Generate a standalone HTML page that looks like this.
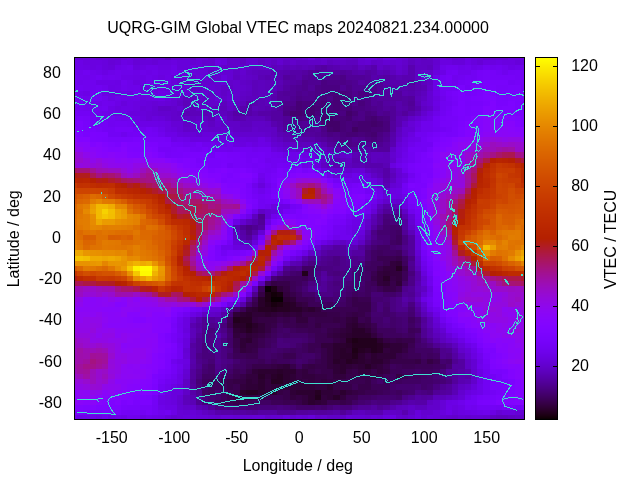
<!DOCTYPE html>
<html><head><meta charset="utf-8"><title>UQRG-GIM Global VTEC maps</title>
<style>html,body{margin:0;padding:0;background:#fff}svg{display:block;will-change:transform}text{font-family:"Liberation Sans",Arial,sans-serif;font-size:16px;fill:#000}</style>
</head><body>
<svg width="640" height="480" viewBox="0 0 640 480">
<rect width="640" height="480" fill="#fff"/>
<defs><clipPath id="pc"><rect x="75" y="58" width="449" height="361"/></clipPath></defs>
<g shape-rendering="crispEdges"><path fill="#6801dd" d="M74 57h3v3h-3zM127 57h6v3h-6zM440 57h6v3h-6zM508 57h13v3h-13zM102 60h6v5h-6zM158 60h13v5h-13zM471 60h6v5h-6zM521 60h4v5h-4zM102 65h6v5h-6zM133 65h7v5h-7zM190 65h6v5h-6zM183 70h7v5h-7zM433 70h7v5h-7zM171 75h6v5h-6zM221 75h6v5h-6zM152 85h6v6h-6zM165 85h6v6h-6zM115 91h6v5h-6zM140 96h6v5h-6zM165 96h6v5h-6zM121 101h6v5h-6zM140 101h6v5h-6zM127 111h13v5h-13zM427 111h6v5h-6zM140 116h6v5h-6zM152 116h6v5h-6zM421 116h6v5h-6zM171 127h6v5h-6zM177 132h6v5h-6zM240 137h6v5h-6zM402 137h6v5h-6zM396 147h6v5h-6zM396 152h6v6h-6zM321 168h6v5h-6zM402 173h6v5h-6zM371 178h6v5h-6zM258 183h7v5h-7zM377 199h6v5h-6zM352 230h13v5h-13zM415 235h6v5h-6zM421 271h6v5h-6zM183 328h7v5h-7zM183 338h7v5h-7zM183 343h7v5h-7zM183 364h7v5h-7zM171 390h12v5h-12zM465 390h6v5h-6zM171 395h6v5h-6zM171 400h6v5h-6zM440 410h6v5h-6zM502 410h13v5h-13zM383 415h7v5h-7zM415 415h6v5h-6z"/><path fill="#6601d6" d="M77 57h6v3h-6zM102 57h6v3h-6zM121 57h6v3h-6zM133 57h7v3h-7zM183 57h7v3h-7zM196 57h12v3h-12zM215 57h12v3h-12zM321 57h6v3h-6zM358 57h7v3h-7zM377 57h6v3h-6zM396 57h6v3h-6zM446 57h6v3h-6zM477 57h6v3h-6zM108 60h7v5h-7zM133 60h7v5h-7zM152 60h6v5h-6zM196 60h6v5h-6zM477 60h6v5h-6zM196 65h6v5h-6zM196 70h12v5h-12zM177 75h6v5h-6zM221 80h6v5h-6zM171 85h12v6h-12zM171 91h19v5h-19zM215 96h6v5h-6zM152 101h6v5h-6zM165 101h6v5h-6zM140 106h6v5h-6zM146 111h6v5h-6zM146 116h6v5h-6zM171 121h12v6h-12zM408 121h7v6h-7zM177 127h6v5h-6zM190 132h6v5h-6zM215 132h6v5h-6zM396 142h6v5h-6zM352 168h13v5h-13zM396 168h6v5h-6zM371 209h6v5h-6zM408 214h7v5h-7zM233 240h7v5h-7zM352 240h6v5h-6zM246 245h6v5h-6zM296 256h6v5h-6zM208 307h13v5h-13zM433 317h7v6h-7zM452 338h6v5h-6zM458 343h7v5h-7zM465 348h6v5h-6zM183 353h7v6h-7zM458 395h7v5h-7zM440 400h6v5h-6zM440 405h6v5h-6zM177 410h6v5h-6zM190 410h6v5h-6zM433 410h7v5h-7zM496 410h6v5h-6zM515 410h6v5h-6zM177 415h6v5h-6zM196 415h12v5h-12zM221 415h12v5h-12zM252 415h13v5h-13zM296 415h6v5h-6zM346 415h6v5h-6zM371 415h6v5h-6zM433 415h7v5h-7z"/><path fill="#6701da" d="M83 57h13v3h-13zM146 57h6v3h-6zM471 57h6v3h-6zM521 57h4v3h-4zM115 60h6v5h-6zM140 60h12v5h-12zM177 60h13v5h-13zM221 60h6v5h-6zM452 60h13v5h-13zM515 60h6v5h-6zM108 65h7v5h-7zM177 65h13v5h-13zM190 70h6v5h-6zM196 75h12v5h-12zM171 80h6v5h-6zM140 85h6v6h-6zM183 85h7v6h-7zM146 101h6v5h-6zM158 101h7v5h-7zM146 106h6v5h-6zM140 111h6v5h-6zM158 116h7v5h-7zM183 132h7v5h-7zM202 132h13v5h-13zM221 132h12v5h-12zM233 137h7v5h-7zM246 137h12v5h-12zM265 137h6v5h-6zM277 147h6v5h-6zM290 147h6v5h-6zM315 152h6v6h-6zM315 158h6v5h-6zM315 163h6v5h-6zM333 173h7v5h-7zM365 173h6v5h-6zM396 178h6v5h-6zM396 183h6v5h-6zM383 194h7v5h-7zM271 209h6v5h-6zM365 214h6v5h-6zM252 240h6v5h-6zM327 240h6v5h-6zM415 240h6v5h-6zM240 245h6v5h-6zM415 245h6v5h-6zM277 266h6v5h-6zM196 312h6v5h-6zM446 333h6v5h-6zM177 384h6v6h-6zM471 384h6v6h-6zM415 410h6v5h-6zM452 410h6v5h-6zM165 415h6v5h-6zM183 415h13v5h-13zM283 415h7v5h-7zM308 415h7v5h-7zM427 415h6v5h-6z"/><path fill="#6401d3" d="M96 57h6v3h-6zM108 57h7v3h-7zM152 57h13v3h-13zM171 57h12v3h-12zM252 57h6v3h-6zM302 57h6v3h-6zM333 57h13v3h-13zM402 57h6v3h-6zM458 57h7v3h-7zM496 57h12v3h-12zM190 60h6v5h-6zM365 60h6v5h-6zM383 60h7v5h-7zM396 60h6v5h-6zM202 65h6v5h-6zM215 65h6v5h-6zM433 65h7v5h-7zM215 70h18v5h-18zM183 75h7v5h-7zM227 75h6v5h-6zM421 75h6v5h-6zM177 80h6v5h-6zM215 80h6v5h-6zM202 85h13v6h-13zM196 91h6v5h-6zM427 91h6v5h-6zM171 96h6v5h-6zM227 96h6v5h-6zM427 96h6v5h-6zM171 101h6v5h-6zM427 101h6v5h-6zM152 106h6v5h-6zM177 106h6v5h-6zM152 111h6v5h-6zM165 116h6v5h-6zM215 116h6v5h-6zM415 116h6v5h-6zM196 121h6v6h-6zM402 127h13v5h-13zM196 132h6v5h-6zM402 132h6v5h-6zM271 142h6v5h-6zM283 147h7v5h-7zM327 168h6v5h-6zM340 168h6v5h-6zM396 173h6v5h-6zM377 183h6v5h-6zM390 183h6v5h-6zM390 199h6v5h-6zM265 209h6v5h-6zM265 214h6v5h-6zM408 219h7v6h-7zM258 230h7v5h-7zM358 235h7v5h-7zM315 245h6v5h-6zM415 250h6v6h-6zM421 281h6v5h-6zM421 292h6v5h-6zM440 328h6v5h-6zM183 348h7v5h-7zM471 359h6v5h-6zM471 364h6v5h-6zM183 369h7v5h-7zM177 395h6v5h-6zM177 405h6v5h-6zM183 410h7v5h-7zM521 410h4v5h-4zM171 415h6v5h-6zM208 415h7v5h-7zM233 415h19v5h-19zM302 415h6v5h-6zM352 415h13v5h-13zM377 415h6v5h-6zM408 415h7v5h-7zM421 415h6v5h-6zM440 415h6v5h-6zM458 415h7v5h-7zM471 415h12v5h-12z"/><path fill="#6301cf" d="M115 57h6v3h-6zM140 57h6v3h-6zM246 57h6v3h-6zM265 57h6v3h-6zM277 57h6v3h-6zM315 57h6v3h-6zM327 57h6v3h-6zM433 57h7v3h-7zM452 57h6v3h-6zM483 57h13v3h-13zM202 60h13v5h-13zM246 60h12v5h-12zM277 60h6v5h-6zM358 60h7v5h-7zM390 60h6v5h-6zM433 60h7v5h-7zM208 65h7v5h-7zM240 65h6v5h-6zM396 65h6v5h-6zM240 70h6v5h-6zM190 75h6v5h-6zM215 75h6v5h-6zM183 80h7v5h-7zM202 80h13v5h-13zM233 80h7v5h-7zM215 85h6v6h-6zM233 85h7v6h-7zM202 91h6v5h-6zM215 91h6v5h-6zM227 91h13v5h-13zM158 111h13v5h-13zM421 111h6v5h-6zM215 121h6v6h-6zM196 127h12v5h-12zM221 127h6v5h-6zM233 132h32v5h-32zM277 142h6v5h-6zM296 147h6v5h-6zM346 152h6v6h-6zM390 152h6v6h-6zM346 168h6v5h-6zM377 178h6v5h-6zM383 188h7v6h-7zM396 199h6v5h-6zM240 219h6v6h-6zM346 240h6v5h-6zM283 261h7v5h-7zM421 276h6v5h-6zM421 302h6v5h-6zM433 323h7v5h-7zM465 353h6v6h-6zM471 369h6v5h-6zM183 374h7v5h-7zM458 390h7v5h-7zM177 400h6v5h-6zM196 410h6v5h-6zM421 410h12v5h-12zM215 415h6v5h-6zM271 415h12v5h-12zM290 415h6v5h-6zM321 415h6v5h-6zM365 415h6v5h-6zM396 415h6v5h-6zM446 415h6v5h-6zM465 415h6v5h-6zM483 415h7v5h-7z"/><path fill="#5f01c3" d="M165 57h6v3h-6zM240 57h6v3h-6zM290 57h6v3h-6zM408 57h7v3h-7zM240 60h6v5h-6zM258 60h7v5h-7zM271 60h6v5h-6zM283 60h7v5h-7zM296 60h12v5h-12zM333 60h13v5h-13zM421 60h12v5h-12zM252 65h6v5h-6zM390 65h6v5h-6zM415 65h12v5h-12zM246 70h6v5h-6zM402 70h6v5h-6zM415 70h6v5h-6zM233 75h7v5h-7zM252 75h6v5h-6zM415 75h6v5h-6zM190 80h6v5h-6zM246 80h6v5h-6zM190 85h6v6h-6zM246 91h6v5h-6zM240 96h6v5h-6zM421 96h6v5h-6zM196 101h12v5h-12zM233 101h7v5h-7zM183 106h7v5h-7zM208 106h7v5h-7zM421 106h6v5h-6zM183 116h13v5h-13zM202 116h6v5h-6zM208 121h7v6h-7zM265 121h6v6h-6zM240 127h12v5h-12zM271 127h6v5h-6zM271 132h6v5h-6zM396 132h6v5h-6zM277 137h6v5h-6zM321 147h6v5h-6zM346 158h6v5h-6zM321 163h6v5h-6zM365 168h6v5h-6zM390 168h6v5h-6zM390 178h6v5h-6zM252 235h6v5h-6zM340 240h6v5h-6zM358 240h7v5h-7zM415 261h6v5h-6zM421 286h6v6h-6zM221 307h6v5h-6zM421 307h6v5h-6zM202 312h6v5h-6zM215 312h6v5h-6zM190 317h6v6h-6zM433 328h7v5h-7zM465 359h6v5h-6zM465 364h6v5h-6zM183 379h7v5h-7zM183 384h7v6h-7zM458 384h7v6h-7zM446 395h6v5h-6zM427 400h6v5h-6zM202 410h6v5h-6zM396 410h6v5h-6zM490 415h6v5h-6zM508 415h7v5h-7z"/><path fill="#6001c7" d="M190 57h6v3h-6zM227 57h6v3h-6zM352 57h6v3h-6zM415 57h6v3h-6zM427 57h6v3h-6zM308 60h13v5h-13zM371 60h6v5h-6zM415 60h6v5h-6zM246 65h6v5h-6zM258 65h7v5h-7zM377 65h6v5h-6zM402 65h6v5h-6zM208 70h7v5h-7zM233 70h7v5h-7zM246 75h6v5h-6zM196 80h6v5h-6zM240 80h6v5h-6zM427 80h6v5h-6zM196 85h6v6h-6zM221 85h12v6h-12zM246 85h6v6h-6zM208 91h7v5h-7zM221 91h6v5h-6zM240 91h6v5h-6zM202 96h6v5h-6zM177 101h6v5h-6zM158 106h13v5h-13zM196 106h6v5h-6zM227 106h6v5h-6zM177 111h6v5h-6zM196 116h6v5h-6zM408 116h7v5h-7zM183 121h7v6h-7zM221 121h19v6h-19zM252 121h13v6h-13zM402 121h6v6h-6zM233 127h7v5h-7zM258 127h13v5h-13zM283 142h13v5h-13zM308 147h7v5h-7zM390 147h6v5h-6zM327 152h6v6h-6zM371 173h6v5h-6zM258 209h7v5h-7zM402 209h6v5h-6zM365 225h6v5h-6zM233 235h7v5h-7zM240 240h6v5h-6zM308 250h7v6h-7zM415 256h6v5h-6zM265 276h6v5h-6zM208 312h7v5h-7zM440 333h6v5h-6zM471 374h6v5h-6zM183 390h7v5h-7zM408 405h7v5h-7zM383 410h13v5h-13zM408 410h7v5h-7zM327 415h19v5h-19zM515 415h10v5h-10z"/><path fill="#6201cb" d="M208 57h7v3h-7zM233 57h7v3h-7zM258 57h7v3h-7zM271 57h6v3h-6zM283 57h7v3h-7zM296 57h6v3h-6zM346 57h6v3h-6zM227 60h13v5h-13zM265 60h6v5h-6zM290 60h6v5h-6zM321 60h6v5h-6zM377 60h6v5h-6zM402 60h6v5h-6zM221 65h19v5h-19zM265 65h6v5h-6zM396 70h6v5h-6zM421 70h12v5h-12zM208 75h7v5h-7zM240 75h6v5h-6zM427 75h6v5h-6zM227 80h6v5h-6zM240 85h6v6h-6zM427 85h6v6h-6zM190 91h6v5h-6zM177 96h6v5h-6zM196 96h6v5h-6zM208 96h7v5h-7zM221 96h6v5h-6zM233 96h7v5h-7zM208 101h13v5h-13zM227 101h6v5h-6zM421 101h6v5h-6zM171 106h6v5h-6zM202 106h6v5h-6zM427 106h6v5h-6zM171 111h6v5h-6zM171 116h12v5h-12zM221 116h6v5h-6zM190 121h6v6h-6zM202 121h6v6h-6zM183 127h13v5h-13zM208 127h13v5h-13zM227 127h6v5h-6zM252 127h6v5h-6zM265 132h6v5h-6zM271 137h6v5h-6zM396 137h6v5h-6zM302 147h6v5h-6zM315 147h6v5h-6zM321 152h6v6h-6zM340 152h6v6h-6zM321 158h6v5h-6zM390 158h6v5h-6zM333 168h7v5h-7zM383 199h7v5h-7zM365 219h6v6h-6zM408 225h7v5h-7zM333 240h7v5h-7zM271 271h6v5h-6zM233 302h7v5h-7zM427 312h6v5h-6zM446 338h6v5h-6zM458 348h7v5h-7zM471 379h6v5h-6zM465 384h6v6h-6zM452 395h6v5h-6zM433 400h7v5h-7zM183 405h13v5h-13zM427 405h13v5h-13zM265 415h6v5h-6zM315 415h6v5h-6zM402 415h6v5h-6zM452 415h6v5h-6z"/><path fill="#6a01e0" d="M308 57h7v3h-7zM365 57h12v3h-12zM390 57h6v3h-6zM465 57h6v3h-6zM83 60h19v5h-19zM127 60h6v5h-6zM171 60h6v5h-6zM215 60h6v5h-6zM440 60h12v5h-12zM483 60h13v5h-13zM502 60h13v5h-13zM90 65h6v5h-6zM140 65h6v5h-6zM158 65h13v5h-13zM158 75h7v5h-7zM133 80h13v5h-13zM146 85h6v6h-6zM158 85h7v6h-7zM108 91h7v5h-7zM127 91h6v5h-6zM140 91h18v5h-18zM146 96h6v5h-6zM433 96h7v5h-7zM133 101h7v5h-7zM115 106h6v5h-6zM133 106h7v5h-7zM433 106h7v5h-7zM165 121h6v6h-6zM415 121h6v6h-6zM165 127h6v5h-6zM408 132h7v5h-7zM190 137h37v5h-37zM233 142h13v5h-13zM252 142h6v5h-6zM402 142h6v5h-6zM271 147h6v5h-6zM390 163h6v5h-6zM340 173h12v5h-12zM371 183h6v5h-6zM390 188h6v6h-6zM396 194h6v5h-6zM271 204h6v5h-6zM402 204h6v5h-6zM352 235h6v5h-6zM233 245h7v5h-7zM246 292h6v5h-6zM240 297h6v5h-6zM183 317h7v6h-7zM183 323h7v5h-7zM471 353h6v6h-6zM183 359h7v5h-7zM477 374h6v5h-6zM165 395h6v5h-6zM165 400h6v5h-6zM452 405h6v5h-6zM458 410h7v5h-7zM390 415h6v5h-6z"/><path fill="#6b01e4" d="M383 57h7v3h-7zM121 60h6v5h-6zM465 60h6v5h-6zM496 60h6v5h-6zM83 65h7v5h-7zM96 65h6v5h-6zM102 70h6v5h-6zM158 70h13v5h-13zM177 70h6v5h-6zM133 75h13v5h-13zM115 80h6v5h-6zM158 80h7v5h-7zM433 80h7v5h-7zM108 85h7v6h-7zM433 85h7v6h-7zM102 91h6v5h-6zM121 91h6v5h-6zM165 91h6v5h-6zM108 96h7v5h-7zM127 96h6v5h-6zM152 96h6v5h-6zM127 101h6v5h-6zM433 101h7v5h-7zM121 106h12v5h-12zM115 111h12v5h-12zM133 116h7v5h-7zM427 116h6v5h-6zM158 121h7v6h-7zM415 127h6v5h-6zM227 137h6v5h-6zM258 137h7v5h-7zM265 142h6v5h-6zM302 152h13v6h-13zM396 158h6v5h-6zM365 178h6v5h-6zM396 188h6v6h-6zM390 194h6v5h-6zM277 204h6v5h-6zM371 204h6v5h-6zM233 219h7v6h-7zM358 219h7v6h-7zM352 225h6v5h-6zM415 230h6v5h-6zM290 256h6v5h-6zM427 286h6v6h-6zM427 307h6v5h-6zM190 312h6v5h-6zM440 323h6v5h-6zM183 333h7v5h-7zM477 369h6v5h-6zM177 374h6v5h-6zM177 379h6v5h-6zM171 384h6v6h-6zM165 390h6v5h-6zM471 390h6v5h-6zM158 400h7v5h-7zM446 400h6v5h-6zM165 405h12v5h-12zM465 410h6v5h-6zM490 410h6v5h-6zM96 415h6v5h-6zM108 415h7v5h-7zM140 415h6v5h-6zM158 415h7v5h-7z"/><path fill="#5d01be" d="M421 57h6v3h-6zM327 60h6v5h-6zM346 60h12v5h-12zM408 60h7v5h-7zM277 65h6v5h-6zM358 65h7v5h-7zM383 65h7v5h-7zM427 65h6v5h-6zM252 70h6v5h-6zM390 70h6v5h-6zM258 80h7v5h-7zM421 80h6v5h-6zM258 85h7v6h-7zM258 91h13v5h-13zM421 91h6v5h-6zM183 96h13v5h-13zM246 96h12v5h-12zM190 101h6v5h-6zM221 101h6v5h-6zM215 111h12v5h-12zM240 121h12v6h-12zM396 127h6v5h-6zM302 142h19v5h-19zM333 152h7v6h-7zM371 152h12v6h-12zM340 158h6v5h-6zM371 158h6v5h-6zM346 163h6v5h-6zM377 204h6v5h-6zM252 214h6v5h-6zM233 230h7v5h-7zM415 297h6v5h-6zM440 338h6v5h-6zM452 343h6v5h-6zM402 405h6v5h-6zM415 405h12v5h-12zM358 410h7v5h-7zM496 415h12v5h-12z"/><path fill="#6c01e6" d="M74 60h9v5h-9zM74 65h9v5h-9zM115 65h6v5h-6zM146 65h12v5h-12zM171 65h6v5h-6zM471 65h6v5h-6zM508 65h7v5h-7zM133 70h7v5h-7zM146 70h6v5h-6zM440 70h6v5h-6zM121 75h12v5h-12zM152 75h6v5h-6zM165 75h6v5h-6zM96 80h19v5h-19zM152 80h6v5h-6zM165 80h6v5h-6zM115 85h6v6h-6zM83 91h7v5h-7zM158 91h7v5h-7zM433 91h7v5h-7zM121 96h6v5h-6zM133 96h7v5h-7zM158 96h7v5h-7zM115 101h6v5h-6zM108 106h7v5h-7zM108 111h7v5h-7zM133 121h25v6h-25zM165 132h12v5h-12zM408 137h7v5h-7zM215 142h12v5h-12zM246 142h6v5h-6zM258 142h7v5h-7zM402 147h6v5h-6zM283 152h7v6h-7zM302 163h6v5h-6zM358 173h7v5h-7zM402 178h6v5h-6zM377 188h6v6h-6zM402 199h6v5h-6zM283 204h7v5h-7zM277 209h6v5h-6zM265 219h6v6h-6zM352 219h6v6h-6zM358 225h7v5h-7zM415 225h6v5h-6zM321 240h6v5h-6zM302 250h6v6h-6zM421 266h6v5h-6zM421 297h6v5h-6zM227 302h6v5h-6zM202 307h6v5h-6zM433 312h7v5h-7zM458 338h7v5h-7zM465 343h6v5h-6zM471 348h6v5h-6zM177 359h6v5h-6zM477 379h6v5h-6zM158 395h7v5h-7zM452 400h6v5h-6zM446 405h6v5h-6zM458 405h7v5h-7zM171 410h6v5h-6zM446 410h6v5h-6zM471 410h6v5h-6zM77 415h6v5h-6zM121 415h6v5h-6zM152 415h6v5h-6z"/><path fill="#6d02e9" d="M121 65h6v5h-6zM440 65h6v5h-6zM458 65h7v5h-7zM477 65h6v5h-6zM515 65h10v5h-10zM96 70h6v5h-6zM108 70h7v5h-7zM121 70h12v5h-12zM140 70h6v5h-6zM152 70h6v5h-6zM171 70h6v5h-6zM146 75h6v5h-6zM433 75h7v5h-7zM127 80h6v5h-6zM146 80h6v5h-6zM127 85h13v6h-13zM77 91h6v5h-6zM115 96h6v5h-6zM90 101h12v5h-12zM102 111h6v5h-6zM433 111h7v5h-7zM121 116h6v5h-6zM158 127h7v5h-7zM171 137h6v5h-6zM183 137h7v5h-7zM415 137h6v5h-6zM290 152h6v6h-6zM402 152h6v6h-6zM290 158h6v5h-6zM302 158h6v5h-6zM308 163h7v5h-7zM327 173h6v5h-6zM352 173h6v5h-6zM258 178h7v5h-7zM352 178h13v5h-13zM377 194h6v5h-6zM402 194h6v5h-6zM252 209h6v5h-6zM246 214h6v5h-6zM346 225h6v5h-6zM346 230h6v5h-6zM427 292h6v5h-6zM452 333h6v5h-6zM477 359h6v5h-6zM177 369h6v5h-6zM477 384h6v6h-6zM477 390h6v5h-6zM465 395h6v5h-6zM158 405h7v5h-7zM477 410h6v5h-6zM83 415h13v5h-13zM115 415h6v5h-6zM146 415h6v5h-6z"/><path fill="#6f02ec" d="M127 65h6v5h-6zM465 65h6v5h-6zM502 65h6v5h-6zM77 70h6v5h-6zM90 70h6v5h-6zM115 70h6v5h-6zM458 70h13v5h-13zM83 75h7v5h-7zM102 75h6v5h-6zM115 75h6v5h-6zM77 80h6v5h-6zM102 85h6v6h-6zM121 85h6v6h-6zM133 91h7v5h-7zM83 96h7v5h-7zM102 96h6v5h-6zM440 96h6v5h-6zM83 101h7v5h-7zM108 101h7v5h-7zM90 106h6v5h-6zM96 111h6v5h-6zM115 116h6v5h-6zM127 116h6v5h-6zM421 121h12v6h-12zM421 127h12v5h-12zM177 137h6v5h-6zM227 142h6v5h-6zM408 142h7v5h-7zM227 147h6v5h-6zM277 152h6v6h-6zM296 152h6v6h-6zM308 158h7v5h-7zM402 158h6v5h-6zM396 163h6v5h-6zM346 178h6v5h-6zM252 183h6v5h-6zM258 188h7v6h-7zM371 199h6v5h-6zM271 214h6v5h-6zM352 214h6v5h-6zM333 235h7v5h-7zM221 245h12v5h-12zM421 261h6v5h-6zM427 276h6v5h-6zM427 302h6v5h-6zM177 323h6v5h-6zM177 338h6v5h-6zM177 364h6v5h-6zM477 364h6v5h-6zM171 379h6v5h-6zM165 384h6v6h-6zM458 400h7v5h-7zM158 410h7v5h-7zM483 410h7v5h-7zM74 415h3v5h-3zM102 415h6v5h-6zM133 415h7v5h-7z"/><path fill="#5c01ba" d="M271 65h6v5h-6zM290 65h6v5h-6zM302 65h6v5h-6zM258 70h13v5h-13zM252 80h6v5h-6zM265 80h12v5h-12zM252 85h6v6h-6zM265 85h12v6h-12zM252 91h6v5h-6zM265 96h6v5h-6zM415 96h6v5h-6zM183 101h7v5h-7zM240 101h6v5h-6zM265 101h6v5h-6zM190 106h6v5h-6zM215 106h12v5h-12zM233 106h7v5h-7zM252 106h6v5h-6zM190 111h12v5h-12zM208 111h7v5h-7zM415 111h6v5h-6zM208 116h7v5h-7zM227 116h6v5h-6zM246 116h19v5h-19zM296 142h6v5h-6zM383 152h7v6h-7zM327 158h6v5h-6zM377 158h13v5h-13zM327 163h6v5h-6zM371 168h6v5h-6zM377 173h6v5h-6zM390 173h6v5h-6zM396 204h6v5h-6zM246 219h6v6h-6zM408 230h7v5h-7zM346 245h6v5h-6zM315 250h6v6h-6zM415 266h6v5h-6zM258 281h7v5h-7zM252 286h6v6h-6zM190 328h6v5h-6zM190 333h6v5h-6zM433 333h7v5h-7zM458 353h7v6h-7zM183 395h7v5h-7zM433 395h13v5h-13zM183 400h7v5h-7zM396 405h6v5h-6zM208 410h7v5h-7zM352 410h6v5h-6z"/><path fill="#5a01b5" d="M283 65h7v5h-7zM296 65h6v5h-6zM308 65h7v5h-7zM340 65h12v5h-12zM365 65h6v5h-6zM377 70h6v5h-6zM258 75h7v5h-7zM271 75h6v5h-6zM396 75h6v5h-6zM277 80h6v5h-6zM421 85h6v6h-6zM415 91h6v5h-6zM258 96h7v5h-7zM258 101h7v5h-7zM415 101h6v5h-6zM258 106h7v5h-7zM183 111h7v5h-7zM202 111h6v5h-6zM227 111h6v5h-6zM402 116h6v5h-6zM277 132h6v5h-6zM283 137h7v5h-7zM327 147h6v5h-6zM352 152h6v6h-6zM365 152h6v6h-6zM340 163h6v5h-6zM352 163h13v5h-13zM383 163h7v5h-7zM377 168h6v5h-6zM383 183h7v5h-7zM390 204h6v5h-6zM371 214h6v5h-6zM365 230h6v5h-6zM246 240h6v5h-6zM321 245h6v5h-6zM352 245h6v5h-6zM290 261h6v5h-6zM415 286h6v6h-6zM421 312h6v5h-6zM427 317h6v6h-6zM427 323h6v5h-6zM465 379h6v5h-6zM452 390h6v5h-6zM190 400h6v5h-6zM196 405h6v5h-6zM365 410h6v5h-6z"/><path fill="#5600a7" d="M315 65h6v5h-6zM290 70h12v5h-12zM352 70h6v5h-6zM371 70h6v5h-6zM296 75h6v5h-6zM377 75h6v5h-6zM283 80h7v5h-7zM383 80h7v5h-7zM390 85h12v6h-12zM408 85h7v6h-7zM246 101h6v5h-6zM246 106h6v5h-6zM271 106h6v5h-6zM402 106h6v5h-6zM233 111h7v5h-7zM246 111h6v5h-6zM258 111h13v5h-13zM396 111h6v5h-6zM277 121h6v6h-6zM290 132h12v5h-12zM390 132h6v5h-6zM333 147h7v5h-7zM365 147h6v5h-6zM383 168h7v5h-7zM383 173h7v5h-7zM383 204h7v5h-7zM240 230h6v5h-6zM252 230h6v5h-6zM321 250h6v6h-6zM415 271h6v5h-6zM415 276h6v5h-6zM402 297h6v5h-6zM221 312h6v5h-6zM196 328h6v5h-6zM427 328h6v5h-6zM427 333h6v5h-6zM190 348h6v5h-6zM190 353h6v6h-6zM190 364h6v5h-6zM458 369h7v5h-7zM465 374h6v5h-6zM190 390h6v5h-6zM415 400h12v5h-12zM221 410h12v5h-12zM333 410h7v5h-7zM346 410h6v5h-6z"/><path fill="#5400a1" d="M321 65h6v5h-6zM302 70h6v5h-6zM327 70h6v5h-6zM365 70h6v5h-6zM290 75h6v5h-6zM383 75h7v5h-7zM290 80h6v5h-6zM358 80h7v5h-7zM283 85h7v6h-7zM383 85h7v6h-7zM390 91h6v5h-6zM402 96h6v5h-6zM383 101h13v5h-13zM402 101h6v5h-6zM240 111h6v5h-6zM271 111h12v5h-12zM271 116h12v5h-12zM315 137h6v5h-6zM358 147h7v5h-7zM371 147h6v5h-6zM390 209h6v5h-6zM402 219h6v6h-6zM258 225h7v5h-7zM371 225h6v5h-6zM402 225h6v5h-6zM408 235h7v5h-7zM333 245h13v5h-13zM352 250h13v6h-13zM315 256h6v5h-6zM277 271h6v5h-6zM321 276h6v5h-6zM215 317h6v6h-6zM196 323h6v5h-6zM190 343h6v5h-6zM440 343h6v5h-6zM452 353h6v6h-6zM458 359h7v5h-7zM452 364h13v5h-13zM446 390h6v5h-6zM415 395h6v5h-6zM427 395h6v5h-6zM402 400h6v5h-6zM371 405h6v5h-6zM233 410h13v5h-13zM258 410h19v5h-19zM308 410h7v5h-7zM327 410h6v5h-6z"/><path fill="#5700ac" d="M327 65h6v5h-6zM371 65h6v5h-6zM283 70h7v5h-7zM358 70h7v5h-7zM371 75h6v5h-6zM390 75h6v5h-6zM390 80h18v5h-18zM402 85h6v6h-6zM408 91h7v5h-7zM271 96h6v5h-6zM271 101h6v5h-6zM396 101h6v5h-6zM240 106h6v5h-6zM396 106h6v5h-6zM415 106h6v5h-6zM408 111h7v5h-7zM277 127h6v5h-6zM302 137h13v5h-13zM390 137h6v5h-6zM365 163h18v5h-18zM252 219h6v6h-6zM240 235h6v5h-6zM365 235h6v5h-6zM346 250h6v6h-6zM240 302h6v5h-6zM415 302h6v5h-6zM196 317h6v6h-6zM215 333h6v5h-6zM433 338h7v5h-7zM446 343h6v5h-6zM452 348h6v5h-6zM190 359h6v5h-6zM458 374h7v5h-7zM408 400h7v5h-7zM202 405h6v5h-6zM390 405h6v5h-6zM215 410h6v5h-6z"/><path fill="#5900b0" d="M333 65h7v5h-7zM352 65h6v5h-6zM408 65h7v5h-7zM271 70h12v5h-12zM383 70h7v5h-7zM408 70h7v5h-7zM265 75h6v5h-6zM277 75h6v5h-6zM402 75h13v5h-13zM415 80h6v5h-6zM277 85h6v6h-6zM415 85h6v6h-6zM271 91h6v5h-6zM402 91h6v5h-6zM252 101h6v5h-6zM265 106h6v5h-6zM252 111h6v5h-6zM233 116h13v5h-13zM265 116h6v5h-6zM396 116h6v5h-6zM271 121h6v6h-6zM396 121h6v6h-6zM283 132h7v5h-7zM290 137h12v5h-12zM321 142h6v5h-6zM390 142h6v5h-6zM358 152h7v6h-7zM333 158h7v5h-7zM352 158h19v5h-19zM333 163h7v5h-7zM383 178h7v5h-7zM377 209h6v5h-6zM402 214h6v5h-6zM371 219h6v6h-6zM233 225h7v5h-7zM327 245h6v5h-6zM302 256h6v5h-6zM296 261h6v5h-6zM415 281h6v5h-6zM415 292h6v5h-6zM190 323h6v5h-6zM190 338h6v5h-6zM465 369h6v5h-6zM458 379h7v5h-7zM452 384h6v6h-6zM190 395h6v5h-6zM371 410h12v5h-12zM402 410h6v5h-6z"/><path fill="#7002ee" d="M446 65h12v5h-12zM490 65h6v5h-6zM74 70h3v5h-3zM502 70h6v5h-6zM77 75h6v5h-6zM90 75h6v5h-6zM108 75h7v5h-7zM452 75h6v5h-6zM83 80h13v5h-13zM121 80h6v5h-6zM440 80h6v5h-6zM452 80h6v5h-6zM83 85h13v6h-13zM102 101h6v5h-6zM83 106h7v5h-7zM96 106h6v5h-6zM90 111h6v5h-6zM96 116h6v5h-6zM140 127h6v5h-6zM121 132h6v5h-6zM158 132h7v5h-7zM202 142h13v5h-13zM215 147h12v5h-12zM252 147h6v5h-6zM271 152h6v6h-6zM265 158h6v5h-6zM283 158h7v5h-7zM402 168h6v5h-6zM258 173h7v5h-7zM265 183h6v5h-6zM265 204h6v5h-6zM365 209h6v5h-6zM408 209h7v5h-7zM358 214h7v5h-7zM346 219h6v6h-6zM340 230h6v5h-6zM340 235h12v5h-12zM427 281h6v5h-6zM177 317h6v6h-6zM177 328h6v5h-6zM446 328h6v5h-6zM471 343h6v5h-6zM477 353h6v6h-6zM171 359h6v5h-6zM471 405h6v5h-6zM127 415h6v5h-6z"/><path fill="#7102f1" d="M483 65h7v5h-7zM496 65h6v5h-6zM83 70h7v5h-7zM458 75h7v5h-7zM74 80h3v5h-3zM74 85h9v6h-9zM96 85h6v6h-6zM440 85h6v6h-6zM74 91h3v5h-3zM90 91h12v5h-12zM440 91h6v5h-6zM440 101h6v5h-6zM74 106h9v5h-9zM102 106h6v5h-6zM440 106h6v5h-6zM102 116h13v5h-13zM108 121h7v6h-7zM127 121h6v6h-6zM152 127h6v5h-6zM433 127h7v5h-7zM415 132h12v5h-12zM183 142h13v5h-13zM233 147h7v5h-7zM258 147h13v5h-13zM271 158h12v5h-12zM296 158h6v5h-6zM271 163h6v5h-6zM408 173h7v5h-7zM371 188h6v6h-6zM415 219h6v6h-6zM340 225h6v5h-6zM315 240h6v5h-6zM427 297h6v5h-6zM433 307h7v5h-7zM183 312h7v5h-7zM440 317h6v6h-6zM177 333h6v5h-6zM177 343h6v5h-6zM483 369h7v5h-7zM171 374h6v5h-6zM165 379h6v5h-6zM471 395h6v5h-6zM465 405h6v5h-6zM165 410h6v5h-6z"/><path fill="#510097" d="M308 70h7v5h-7zM340 70h6v5h-6zM302 75h6v5h-6zM315 75h6v5h-6zM346 75h19v5h-19zM365 80h18v5h-18zM290 85h6v6h-6zM308 85h7v6h-7zM377 85h6v6h-6zM283 91h13v5h-13zM371 96h6v5h-6zM371 101h6v5h-6zM408 101h7v5h-7zM390 106h6v5h-6zM390 111h6v5h-6zM283 116h7v5h-7zM390 116h6v5h-6zM283 121h7v6h-7zM302 121h19v6h-19zM290 127h6v5h-6zM308 127h7v5h-7zM315 132h6v5h-6zM333 142h7v5h-7zM365 142h6v5h-6zM383 209h7v5h-7zM396 209h6v5h-6zM377 214h6v5h-6zM258 219h7v6h-7zM377 219h6v6h-6zM240 225h6v5h-6zM402 230h6v5h-6zM308 256h7v5h-7zM346 256h6v5h-6zM321 281h6v5h-6zM321 286h6v6h-6zM408 286h7v6h-7zM402 292h6v5h-6zM246 297h6v5h-6zM208 317h7v6h-7zM421 317h6v6h-6zM215 338h6v5h-6zM215 343h6v5h-6zM446 369h6v5h-6zM190 379h6v5h-6zM433 390h7v5h-7zM196 395h6v5h-6zM208 405h7v5h-7zM358 405h13v5h-13zM252 410h6v5h-6zM340 410h6v5h-6z"/><path fill="#4f0092" d="M315 70h6v5h-6zM308 75h7v5h-7zM321 75h6v5h-6zM308 80h13v5h-13zM352 80h6v5h-6zM296 85h6v6h-6zM340 85h6v6h-6zM352 85h13v6h-13zM302 91h6v5h-6zM290 96h6v5h-6zM377 101h6v5h-6zM377 106h6v5h-6zM377 111h6v5h-6zM290 121h12v6h-12zM302 127h6v5h-6zM327 137h6v5h-6zM352 137h6v5h-6zM383 137h7v5h-7zM358 142h7v5h-7zM377 142h6v5h-6zM258 214h7v5h-7zM252 225h6v5h-6zM321 256h6v5h-6zM358 256h7v5h-7zM302 261h6v5h-6zM315 261h6v5h-6zM346 261h6v5h-6zM408 261h7v5h-7zM283 266h7v5h-7zM327 276h6v5h-6zM408 292h7v5h-7zM415 312h6v5h-6zM202 317h6v6h-6zM202 323h6v5h-6zM215 323h6v5h-6zM215 328h6v5h-6zM421 328h6v5h-6zM221 333h6v5h-6zM421 333h6v5h-6zM196 338h6v5h-6zM427 338h6v5h-6zM196 343h6v5h-6zM433 343h7v5h-7zM196 348h6v5h-6zM215 348h6v5h-6zM446 348h6v5h-6zM215 359h6v5h-6zM452 359h6v5h-6zM196 364h6v5h-6zM440 384h6v6h-6zM196 390h6v5h-6zM408 395h7v5h-7zM196 400h6v5h-6zM396 400h6v5h-6zM377 405h6v5h-6zM277 410h19v5h-19z"/><path fill="#53009c" d="M321 70h6v5h-6zM333 70h7v5h-7zM346 70h6v5h-6zM283 75h7v5h-7zM365 75h6v5h-6zM296 80h6v5h-6zM408 80h7v5h-7zM277 91h6v5h-6zM377 91h13v5h-13zM396 91h6v5h-6zM277 96h13v5h-13zM377 96h25v5h-25zM408 96h7v5h-7zM277 101h6v5h-6zM277 106h6v5h-6zM383 106h7v5h-7zM408 106h7v5h-7zM402 111h6v5h-6zM390 121h6v6h-6zM283 127h7v5h-7zM315 127h6v5h-6zM390 127h6v5h-6zM302 132h13v5h-13zM321 137h6v5h-6zM327 142h6v5h-6zM383 142h7v5h-7zM340 147h18v5h-18zM377 147h13v5h-13zM246 235h6v5h-6zM365 240h6v5h-6zM408 240h7v5h-7zM358 245h7v5h-7zM408 245h7v5h-7zM327 250h19v6h-19zM408 250h7v6h-7zM321 271h6v5h-6zM315 286h6v6h-6zM408 297h7v5h-7zM402 302h6v5h-6zM227 307h6v5h-6zM415 307h6v5h-6zM421 323h6v5h-6zM196 333h6v5h-6zM190 369h6v5h-6zM452 369h6v5h-6zM190 374h6v5h-6zM452 374h6v5h-6zM452 379h6v5h-6zM190 384h6v6h-6zM446 384h6v6h-6zM440 390h6v5h-6zM421 395h6v5h-6zM383 405h7v5h-7zM246 410h6v5h-6zM296 410h12v5h-12zM315 410h12v5h-12z"/><path fill="#7202f3" d="M446 70h6v5h-6zM471 70h6v5h-6zM521 70h4v5h-4zM74 75h3v5h-3zM96 75h6v5h-6zM471 75h6v5h-6zM521 75h4v5h-4zM446 80h6v5h-6zM446 85h6v6h-6zM77 96h6v5h-6zM90 96h12v5h-12zM446 101h6v5h-6zM440 111h6v5h-6zM90 116h6v5h-6zM433 116h7v5h-7zM115 121h12v6h-12zM433 121h7v6h-7zM133 127h7v5h-7zM415 142h6v5h-6zM208 147h7v5h-7zM240 147h12v5h-12zM265 152h6v6h-6zM408 152h7v6h-7zM408 158h7v5h-7zM290 163h6v5h-6zM402 163h6v5h-6zM265 168h6v5h-6zM340 178h6v5h-6zM365 183h6v5h-6zM402 188h6v6h-6zM258 199h7v5h-7zM258 204h7v5h-7zM365 204h6v5h-6zM333 225h7v5h-7zM333 230h7v5h-7zM308 245h7v5h-7zM421 256h6v5h-6zM196 307h6v5h-6zM446 323h6v5h-6zM177 348h6v5h-6zM177 353h6v6h-6zM483 374h7v5h-7zM483 379h7v5h-7zM158 384h7v6h-7zM483 384h7v6h-7zM158 390h7v5h-7zM483 390h7v5h-7zM496 405h6v5h-6zM140 410h6v5h-6zM152 410h6v5h-6z"/><path fill="#7302f5" d="M452 70h6v5h-6zM496 70h6v5h-6zM508 70h7v5h-7zM440 75h6v5h-6zM465 75h6v5h-6zM471 80h6v5h-6zM452 85h6v6h-6zM521 85h4v6h-4zM74 101h3v5h-3zM77 111h13v5h-13zM90 121h6v6h-6zM108 127h7v5h-7zM146 127h6v5h-6zM440 127h6v5h-6zM108 132h13v5h-13zM127 132h6v5h-6zM140 132h6v5h-6zM152 132h6v5h-6zM421 137h6v5h-6zM177 142h6v5h-6zM421 142h12v5h-12zM196 147h6v5h-6zM408 147h7v5h-7zM421 147h6v5h-6zM246 152h12v6h-12zM265 163h6v5h-6zM283 163h7v5h-7zM315 168h6v5h-6zM333 178h7v5h-7zM402 183h6v5h-6zM252 188h6v6h-6zM265 188h6v6h-6zM258 194h7v5h-7zM271 199h6v5h-6zM290 204h6v5h-6zM346 214h6v5h-6zM415 214h6v5h-6zM258 235h7v5h-7zM221 250h6v6h-6zM296 250h6v6h-6zM427 271h6v5h-6zM452 328h6v5h-6zM458 333h7v5h-7zM483 364h7v5h-7zM490 374h6v5h-6zM465 400h12v5h-12zM152 405h6v5h-6zM477 405h19v5h-19zM127 410h6v5h-6z"/><path fill="#7602f8" d="M477 70h6v5h-6zM490 70h6v5h-6zM446 75h6v5h-6zM477 75h6v5h-6zM490 75h25v5h-25zM465 80h6v5h-6zM477 80h6v5h-6zM515 80h6v5h-6zM446 91h6v5h-6zM77 101h6v5h-6zM452 101h6v5h-6zM521 106h4v5h-4zM446 111h6v5h-6zM74 116h3v5h-3zM440 116h6v5h-6zM115 127h18v5h-18zM446 127h6v5h-6zM165 137h6v5h-6zM158 147h13v5h-13zM202 147h6v5h-6zM240 152h6v6h-6zM246 163h6v5h-6zM258 163h7v5h-7zM408 178h7v5h-7zM271 183h6v5h-6zM252 194h6v5h-6zM265 194h6v5h-6zM277 199h6v5h-6zM296 204h6v5h-6zM415 209h6v5h-6zM240 214h6v5h-6zM340 219h6v6h-6zM252 245h6v5h-6zM421 250h6v6h-6zM271 266h6v5h-6zM427 266h6v5h-6zM458 328h7v5h-7zM171 333h6v5h-6zM171 338h6v5h-6zM483 359h7v5h-7zM165 374h6v5h-6zM158 379h7v5h-7zM477 395h6v5h-6zM502 405h6v5h-6zM521 405h4v5h-4zM146 410h6v5h-6z"/><path fill="#7703f9" d="M483 70h7v5h-7zM483 75h7v5h-7zM471 85h6v6h-6zM496 85h12v6h-12zM465 91h6v5h-6zM496 91h6v5h-6zM452 96h6v5h-6zM521 101h4v5h-4zM83 116h7v5h-7zM446 116h12v5h-12zM440 121h12v6h-12zM96 127h6v5h-6zM433 132h7v5h-7zM146 137h19v5h-19zM427 137h6v5h-6zM171 147h6v5h-6zM183 147h7v5h-7zM165 152h6v6h-6zM227 152h13v6h-13zM415 152h6v6h-6zM233 158h13v5h-13zM252 158h6v5h-6zM415 158h6v5h-6zM233 163h13v5h-13zM252 168h6v5h-6zM283 168h7v5h-7zM408 168h7v5h-7zM271 173h6v5h-6zM321 173h6v5h-6zM252 178h6v5h-6zM352 183h6v5h-6zM371 194h6v5h-6zM290 209h6v5h-6zM352 209h13v5h-13zM333 219h7v6h-7zM421 225h6v5h-6zM327 230h6v5h-6zM233 250h7v6h-7zM177 312h6v5h-6zM171 323h6v5h-6zM496 374h6v5h-6zM496 379h6v5h-6zM496 390h6v5h-6zM483 395h7v5h-7zM140 405h12v5h-12zM508 405h7v5h-7zM74 410h3v5h-3zM83 410h19v5h-19z"/><path fill="#7402f6" d="M515 70h6v5h-6zM515 75h6v5h-6zM458 80h7v5h-7zM508 80h7v5h-7zM521 80h4v5h-4zM465 85h6v6h-6zM74 96h3v5h-3zM446 96h6v5h-6zM446 106h6v5h-6zM74 111h3v5h-3zM96 121h12v6h-12zM102 127h6v5h-6zM133 132h7v5h-7zM146 132h6v5h-6zM427 132h6v5h-6zM171 142h6v5h-6zM196 142h6v5h-6zM190 147h6v5h-6zM415 147h6v5h-6zM208 152h7v6h-7zM258 152h7v6h-7zM246 158h6v5h-6zM258 158h7v5h-7zM227 163h6v5h-6zM252 163h6v5h-6zM277 163h6v5h-6zM296 163h6v5h-6zM258 168h7v5h-7zM271 168h6v5h-6zM265 173h6v5h-6zM265 178h6v5h-6zM346 183h6v5h-6zM365 188h6v6h-6zM265 199h6v5h-6zM365 199h6v5h-6zM408 204h7v5h-7zM283 209h7v5h-7zM277 214h6v5h-6zM327 235h6v5h-6zM227 240h6v5h-6zM283 256h7v5h-7zM190 307h6v5h-6zM465 338h6v5h-6zM477 348h6v5h-6zM171 364h6v5h-6zM171 369h6v5h-6zM490 390h6v5h-6zM152 395h6v5h-6zM152 400h6v5h-6zM515 405h6v5h-6zM121 410h6v5h-6zM133 410h7v5h-7z"/><path fill="#4e008c" d="M327 75h13v5h-13zM302 80h6v5h-6zM346 80h6v5h-6zM302 85h6v6h-6zM365 85h12v6h-12zM296 91h6v5h-6zM308 91h7v5h-7zM352 91h6v5h-6zM371 91h6v5h-6zM302 96h13v5h-13zM352 96h6v5h-6zM283 101h13v5h-13zM352 101h6v5h-6zM371 106h6v5h-6zM383 111h7v5h-7zM290 116h6v5h-6zM296 127h6v5h-6zM321 132h6v5h-6zM383 132h7v5h-7zM333 137h7v5h-7zM358 137h7v5h-7zM340 142h6v5h-6zM352 142h6v5h-6zM371 142h6v5h-6zM246 230h6v5h-6zM371 235h6v5h-6zM402 245h6v5h-6zM327 256h6v5h-6zM340 256h6v5h-6zM352 256h6v5h-6zM321 261h6v5h-6zM340 261h6v5h-6zM352 261h6v5h-6zM296 266h6v5h-6zM340 266h12v5h-12zM408 266h7v5h-7zM315 276h6v5h-6zM315 281h6v5h-6zM308 286h7v6h-7zM402 286h6v6h-6zM252 292h6v5h-6zM396 297h6v5h-6zM396 302h6v5h-6zM396 307h12v5h-12zM221 317h6v6h-6zM208 323h7v5h-7zM202 328h6v5h-6zM440 348h6v5h-6zM215 353h6v6h-6zM440 353h6v6h-6zM196 359h6v5h-6zM215 364h6v5h-6zM446 374h6v5h-6zM390 400h6v5h-6zM352 405h6v5h-6z"/><path fill="#4c0086" d="M340 75h6v5h-6zM327 80h19v5h-19zM315 85h6v6h-6zM346 85h6v6h-6zM315 91h6v5h-6zM296 96h6v5h-6zM327 96h6v5h-6zM358 96h13v5h-13zM365 101h6v5h-6zM283 106h7v5h-7zM365 106h6v5h-6zM358 111h7v5h-7zM315 116h6v5h-6zM358 116h7v5h-7zM321 127h6v5h-6zM333 132h7v5h-7zM346 137h6v5h-6zM377 137h6v5h-6zM346 142h6v5h-6zM246 225h6v5h-6zM371 230h6v5h-6zM408 256h7v5h-7zM327 261h6v5h-6zM290 266h6v5h-6zM333 266h7v5h-7zM315 271h6v5h-6zM346 271h6v5h-6zM333 276h19v5h-19zM408 276h7v5h-7zM327 281h6v5h-6zM408 281h7v5h-7zM327 286h6v6h-6zM321 292h12v5h-12zM221 328h6v5h-6zM202 333h6v5h-6zM202 338h13v5h-13zM208 348h7v5h-7zM196 353h6v6h-6zM446 353h6v6h-6zM221 359h6v5h-6zM196 369h6v5h-6zM215 369h6v5h-6zM415 390h6v5h-6zM402 395h6v5h-6z"/><path fill="#4a0081" d="M321 80h6v5h-6zM321 85h19v6h-19zM321 91h6v5h-6zM346 91h6v5h-6zM358 91h13v5h-13zM315 96h6v5h-6zM290 106h6v5h-6zM352 106h13v5h-13zM283 111h7v5h-7zM340 111h6v5h-6zM371 111h6v5h-6zM302 116h6v5h-6zM352 116h6v5h-6zM383 116h7v5h-7zM327 132h6v5h-6zM377 132h6v5h-6zM340 137h6v5h-6zM365 137h6v5h-6zM390 214h12v5h-12zM377 225h6v5h-6zM402 235h6v5h-6zM371 240h6v5h-6zM402 240h6v5h-6zM365 245h6v5h-6zM402 250h6v6h-6zM333 256h7v5h-7zM308 261h7v5h-7zM333 261h7v5h-7zM358 261h7v5h-7zM321 266h12v5h-12zM352 266h6v5h-6zM327 271h6v5h-6zM340 271h6v5h-6zM308 281h7v5h-7zM340 281h6v5h-6zM333 286h7v6h-7zM390 297h6v5h-6zM390 302h6v5h-6zM408 302h7v5h-7zM390 307h6v5h-6zM208 333h7v5h-7zM221 338h6v5h-6zM208 343h7v5h-7zM221 343h6v5h-6zM221 348h6v5h-6zM221 353h6v6h-6zM202 359h6v5h-6zM227 359h6v5h-6zM221 364h6v5h-6zM196 374h6v5h-6zM446 379h6v5h-6zM433 384h7v6h-7zM421 390h6v5h-6zM371 400h6v5h-6zM215 405h12v5h-12zM277 405h6v5h-6zM333 405h7v5h-7z"/><path fill="#7903fc" d="M483 80h7v5h-7zM458 85h7v6h-7zM483 85h13v6h-13zM515 91h6v5h-6zM465 96h6v5h-6zM502 96h6v5h-6zM521 96h4v5h-4zM471 101h12v5h-12zM452 106h6v5h-6zM465 106h6v5h-6zM452 111h6v5h-6zM465 111h6v5h-6zM521 111h4v5h-4zM83 127h13v5h-13zM452 127h6v5h-6zM452 132h6v5h-6zM427 147h6v5h-6zM221 152h6v6h-6zM221 158h6v5h-6zM283 173h7v5h-7zM415 178h6v5h-6zM358 183h7v5h-7zM408 188h7v6h-7zM408 194h7v5h-7zM246 209h6v5h-6zM333 214h13v5h-13zM327 225h6v5h-6zM215 245h6v5h-6zM290 250h6v6h-6zM252 281h6v5h-6zM171 317h6v6h-6zM446 317h6v6h-6zM171 328h6v5h-6zM165 369h6v5h-6zM496 369h6v5h-6zM158 374h7v5h-7zM502 384h6v6h-6zM477 400h6v5h-6zM121 405h6v5h-6zM108 410h7v5h-7z"/><path fill="#7803fb" d="M490 80h18v5h-18zM477 85h6v6h-6zM508 85h13v6h-13zM452 91h6v5h-6zM471 91h6v5h-6zM502 91h13v5h-13zM521 91h4v5h-4zM465 101h6v5h-6zM77 116h6v5h-6zM74 121h3v6h-3zM83 121h7v6h-7zM452 121h6v6h-6zM446 132h6v5h-6zM108 137h25v5h-25zM158 142h13v5h-13zM177 147h6v5h-6zM171 152h12v6h-12zM196 158h25v5h-25zM227 158h6v5h-6zM208 163h13v5h-13zM408 163h7v5h-7zM302 168h6v5h-6zM415 173h6v5h-6zM271 178h6v5h-6zM246 183h6v5h-6zM271 188h6v6h-6zM346 188h6v6h-6zM408 199h7v5h-7zM252 204h6v5h-6zM265 225h6v5h-6zM227 230h6v5h-6zM227 250h6v6h-6zM277 261h6v5h-6zM427 261h6v5h-6zM258 276h7v5h-7zM221 302h6v5h-6zM433 302h7v5h-7zM440 312h6v5h-6zM452 323h6v5h-6zM465 333h6v5h-6zM471 338h6v5h-6zM171 353h6v6h-6zM483 353h7v6h-7zM490 379h6v5h-6zM502 379h6v5h-6zM490 384h12v6h-12zM490 395h6v5h-6zM127 405h13v5h-13zM115 410h6v5h-6z"/><path fill="#48007b" d="M327 91h19v5h-19zM321 96h6v5h-6zM340 96h12v5h-12zM302 101h19v5h-19zM327 101h6v5h-6zM340 101h12v5h-12zM358 101h7v5h-7zM302 106h6v5h-6zM327 106h6v5h-6zM340 106h6v5h-6zM315 111h6v5h-6zM333 111h7v5h-7zM365 111h6v5h-6zM296 116h6v5h-6zM308 116h7v5h-7zM377 116h6v5h-6zM346 121h6v6h-6zM383 121h7v6h-7zM346 127h6v5h-6zM383 127h7v5h-7zM340 132h6v5h-6zM358 132h7v5h-7zM371 137h6v5h-6zM383 214h7v5h-7zM390 219h12v6h-12zM377 240h6v5h-6zM315 266h6v5h-6zM283 271h7v5h-7zM333 271h7v5h-7zM408 271h7v5h-7zM333 281h7v5h-7zM340 286h6v6h-6zM315 292h6v5h-6zM333 292h7v5h-7zM377 302h6v5h-6zM377 307h6v5h-6zM396 312h12v5h-12zM221 323h6v5h-6zM208 328h7v5h-7zM277 338h6v5h-6zM421 338h6v5h-6zM202 343h6v5h-6zM277 343h13v5h-13zM427 343h6v5h-6zM202 348h6v5h-6zM202 353h13v6h-13zM221 369h6v5h-6zM440 369h6v5h-6zM440 374h6v5h-6zM196 384h6v6h-6zM427 390h6v5h-6zM202 395h6v5h-6zM202 400h6v5h-6zM377 400h13v5h-13zM227 405h6v5h-6zM240 405h6v5h-6zM258 405h19v5h-19zM283 405h7v5h-7zM340 405h12v5h-12z"/><path fill="#7b03fe" d="M458 91h7v5h-7zM471 96h6v5h-6zM508 96h13v5h-13zM458 101h7v5h-7zM458 106h7v5h-7zM471 106h12v5h-12zM458 111h7v5h-7zM521 121h4v6h-4zM77 127h6v5h-6zM96 132h12v5h-12zM96 137h6v5h-6zM115 142h6v5h-6zM140 142h6v5h-6zM421 158h12v5h-12zM196 163h6v5h-6zM415 163h6v5h-6zM290 168h6v5h-6zM421 168h6v5h-6zM227 173h6v5h-6zM252 173h6v5h-6zM427 173h6v5h-6zM340 183h6v5h-6zM421 183h6v5h-6zM352 188h6v6h-6zM415 188h6v6h-6zM246 194h6v5h-6zM271 194h6v5h-6zM365 194h6v5h-6zM415 194h6v5h-6zM283 199h7v5h-7zM358 204h7v5h-7zM346 209h6v5h-6zM421 214h6v5h-6zM271 219h6v6h-6zM258 240h7v5h-7zM421 240h6v5h-6zM302 245h6v5h-6zM215 256h6v5h-6zM427 256h6v5h-6zM246 286h6v6h-6zM165 333h6v5h-6zM471 333h6v5h-6zM171 343h6v5h-6zM165 359h6v5h-6zM165 364h6v5h-6zM502 369h6v5h-6zM496 395h6v5h-6zM490 400h6v5h-6z"/><path fill="#7a03fd" d="M477 91h6v5h-6zM458 96h7v5h-7zM496 96h6v5h-6zM496 101h12v5h-12zM515 101h6v5h-6zM515 106h6v5h-6zM471 111h12v5h-12zM515 111h6v5h-6zM458 116h7v5h-7zM521 116h4v5h-4zM83 132h7v5h-7zM440 132h6v5h-6zM102 137h6v5h-6zM133 137h13v5h-13zM433 137h7v5h-7zM183 152h25v6h-25zM215 152h6v6h-6zM421 152h6v6h-6zM221 163h6v5h-6zM246 168h6v5h-6zM277 168h6v5h-6zM415 168h6v5h-6zM277 173h6v5h-6zM246 188h6v6h-6zM358 188h7v6h-7zM252 199h6v5h-6zM415 199h6v5h-6zM415 204h6v5h-6zM327 219h6v6h-6zM227 225h6v5h-6zM421 230h6v5h-6zM227 235h6v5h-6zM321 235h6v5h-6zM421 235h6v5h-6zM421 245h6v5h-6zM215 250h6v6h-6zM240 250h6v6h-6zM221 256h6v5h-6zM433 292h7v5h-7zM233 297h7v5h-7zM433 297h7v5h-7zM183 307h7v5h-7zM440 307h6v5h-6zM477 343h6v5h-6zM171 348h6v5h-6zM490 369h6v5h-6zM502 390h6v5h-6zM146 395h6v5h-6zM133 400h7v5h-7zM483 400h7v5h-7zM77 410h6v5h-6zM102 410h6v5h-6z"/><path fill="#7d04ff" d="M483 91h7v5h-7zM483 96h7v5h-7zM508 101h7v5h-7zM502 106h13v5h-13zM496 111h12v5h-12zM74 127h3v5h-3zM458 127h7v5h-7zM77 132h6v5h-6zM458 132h7v5h-7zM108 142h7v5h-7zM433 142h7v5h-7zM133 147h7v5h-7zM152 147h6v5h-6zM177 158h6v5h-6zM190 158h6v5h-6zM190 163h6v5h-6zM202 163h6v5h-6zM427 163h6v5h-6zM227 168h6v5h-6zM240 168h6v5h-6zM421 173h6v5h-6zM233 178h7v5h-7zM421 178h6v5h-6zM408 183h7v5h-7zM246 199h6v5h-6zM283 214h7v5h-7zM302 214h6v5h-6zM321 230h6v5h-6zM315 235h6v5h-6zM265 271h6v5h-6zM433 276h7v5h-7zM452 317h6v6h-6zM458 323h7v5h-7zM465 328h6v5h-6zM165 348h6v5h-6zM490 353h6v6h-6zM502 374h6v5h-6zM152 379h6v5h-6zM133 395h7v5h-7zM502 395h6v5h-6zM108 405h13v5h-13z"/><path fill="#7c03fe" d="M490 91h6v5h-6zM477 96h6v5h-6zM483 101h7v5h-7zM496 106h6v5h-6zM508 111h7v5h-7zM465 116h6v5h-6zM77 121h6v6h-6zM458 121h7v6h-7zM90 132h6v5h-6zM90 137h6v5h-6zM146 142h12v5h-12zM140 147h6v5h-6zM158 152h7v6h-7zM421 163h6v5h-6zM208 168h7v5h-7zM233 168h7v5h-7zM308 168h7v5h-7zM427 168h6v5h-6zM221 178h6v5h-6zM327 178h6v5h-6zM333 183h7v5h-7zM415 183h6v5h-6zM346 194h6v5h-6zM296 209h6v5h-6zM421 209h6v5h-6zM296 214h6v5h-6zM421 219h6v6h-6zM321 225h6v5h-6zM433 286h7v6h-7zM165 338h6v5h-6zM483 348h13v5h-13zM165 353h6v6h-6zM158 369h7v5h-7zM152 374h6v5h-6zM508 379h7v5h-7zM152 384h6v6h-6zM152 390h6v5h-6zM140 395h6v5h-6zM121 400h6v5h-6zM140 400h12v5h-12z"/><path fill="#460075" d="M333 96h7v5h-7zM296 101h6v5h-6zM321 101h6v5h-6zM333 101h7v5h-7zM296 106h6v5h-6zM315 106h12v5h-12zM333 106h7v5h-7zM346 106h6v5h-6zM302 111h6v5h-6zM321 111h6v5h-6zM352 111h6v5h-6zM333 116h13v5h-13zM365 116h6v5h-6zM321 121h6v6h-6zM340 121h6v6h-6zM352 121h6v6h-6zM340 127h6v5h-6zM371 127h12v5h-12zM346 132h12v5h-12zM365 132h6v5h-6zM383 219h7v6h-7zM377 235h13v5h-13zM383 240h7v5h-7zM396 245h6v5h-6zM365 250h6v6h-6zM365 256h6v5h-6zM352 271h6v5h-6zM271 276h6v5h-6zM352 276h6v5h-6zM346 281h6v5h-6zM302 286h6v6h-6zM340 292h6v5h-6zM371 292h12v5h-12zM396 292h6v5h-6zM333 297h7v5h-7zM383 297h7v5h-7zM408 307h7v5h-7zM227 312h6v5h-6zM383 317h7v6h-7zM402 317h6v6h-6zM402 323h6v5h-6zM415 323h6v5h-6zM283 338h19v5h-19zM290 343h6v5h-6zM227 348h6v5h-6zM208 359h7v5h-7zM202 364h6v5h-6zM227 364h6v5h-6zM446 364h6v5h-6zM215 374h6v5h-6zM433 374h7v5h-7zM196 379h6v5h-6zM440 379h6v5h-6zM415 384h6v6h-6zM365 400h6v5h-6zM233 405h7v5h-7zM246 405h12v5h-12zM290 405h6v5h-6zM327 405h6v5h-6z"/><path fill="#7e04ff" d="M490 96h6v5h-6zM515 116h6v5h-6zM440 137h6v5h-6zM127 142h13v5h-13zM127 147h6v5h-6zM427 152h6v6h-6zM215 168h6v5h-6zM296 168h6v5h-6zM221 173h6v5h-6zM233 173h7v5h-7zM227 178h6v5h-6zM240 178h12v5h-12zM240 188h6v6h-6zM421 194h6v5h-6zM358 199h7v5h-7zM352 204h6v5h-6zM421 204h6v5h-6zM290 214h6v5h-6zM327 214h6v5h-6zM221 240h6v5h-6zM308 240h7v5h-7zM246 250h6v6h-6zM433 281h7v5h-7zM440 297h6v5h-6zM440 302h6v5h-6zM177 307h6v5h-6zM171 312h6v5h-6zM477 338h6v5h-6zM490 364h6v5h-6zM508 384h7v6h-7zM508 390h7v5h-7zM108 400h7v5h-7zM127 400h6v5h-6zM83 405h7v5h-7zM96 405h12v5h-12z"/><path fill="#8004ff" d="M490 101h6v5h-6zM490 106h6v5h-6zM465 121h6v6h-6zM515 121h6v6h-6zM446 137h6v5h-6zM102 142h6v5h-6zM108 147h7v5h-7zM146 147h6v5h-6zM133 152h13v6h-13zM183 158h7v5h-7zM427 178h6v5h-6zM227 183h6v5h-6zM240 183h6v5h-6zM421 188h6v6h-6zM240 194h6v5h-6zM352 194h6v5h-6zM346 199h12v5h-12zM233 214h7v5h-7zM315 225h6v5h-6zM283 250h7v6h-7zM227 256h6v5h-6zM433 266h7v5h-7zM440 286h6v6h-6zM446 312h6v5h-6zM471 328h6v5h-6zM158 333h7v5h-7zM165 343h6v5h-6zM483 343h7v5h-7zM158 353h7v6h-7zM490 359h6v5h-6zM127 395h6v5h-6zM496 400h6v5h-6zM74 405h9v5h-9z"/><path fill="#44006f" d="M308 106h7v5h-7zM290 111h12v5h-12zM308 111h7v5h-7zM327 111h6v5h-6zM321 116h6v5h-6zM346 116h6v5h-6zM371 116h6v5h-6zM358 121h13v6h-13zM377 121h6v6h-6zM327 127h6v5h-6zM358 127h13v5h-13zM371 132h6v5h-6zM383 225h7v5h-7zM377 230h13v5h-13zM371 245h6v5h-6zM390 245h6v5h-6zM358 266h7v5h-7zM290 271h6v5h-6zM352 281h13v5h-13zM346 286h6v6h-6zM321 297h12v5h-12zM371 297h12v5h-12zM383 302h7v5h-7zM233 307h7v5h-7zM371 312h12v5h-12zM390 312h6v5h-6zM408 312h7v5h-7zM396 317h6v6h-6zM415 317h6v6h-6zM383 323h7v5h-7zM396 323h6v5h-6zM402 328h6v5h-6zM227 333h6v5h-6zM415 333h6v5h-6zM302 338h6v5h-6zM421 343h6v5h-6zM271 348h6v5h-6zM433 348h7v5h-7zM233 359h7v5h-7zM296 359h6v5h-6zM440 359h6v5h-6zM202 369h6v5h-6zM433 379h7v5h-7zM396 384h19v6h-19zM427 384h6v6h-6zM215 390h6v5h-6zM408 390h7v5h-7zM208 395h7v5h-7zM377 395h19v5h-19zM208 400h7v5h-7zM358 400h7v5h-7zM315 405h6v5h-6z"/><path fill="#8104ff" d="M483 106h7v5h-7zM483 111h13v5h-13zM471 116h6v5h-6zM508 116h7v5h-7zM471 121h6v6h-6zM74 132h3v5h-3zM77 137h6v5h-6zM90 142h6v5h-6zM440 142h6v5h-6zM115 147h6v5h-6zM433 147h7v5h-7zM127 152h6v6h-6zM152 152h6v6h-6zM171 158h6v5h-6zM183 163h7v5h-7zM190 168h6v5h-6zM221 168h6v5h-6zM208 173h7v5h-7zM246 173h6v5h-6zM277 178h6v5h-6zM233 183h7v5h-7zM302 204h6v5h-6zM346 204h6v5h-6zM308 214h13v5h-13zM308 219h7v6h-7zM315 230h6v5h-6zM427 235h6v5h-6zM427 250h6v6h-6zM208 256h7v5h-7zM440 292h6v5h-6zM171 307h6v5h-6zM446 307h12v5h-12zM452 312h6v5h-6zM165 317h6v6h-6zM158 338h7v5h-7zM490 343h6v5h-6zM496 353h6v6h-6zM158 364h7v5h-7zM496 364h6v5h-6zM133 390h7v5h-7zM146 390h6v5h-6zM508 395h7v5h-7zM502 400h13v5h-13z"/><path fill="#420069" d="M346 111h6v5h-6zM327 116h6v5h-6zM327 121h13v6h-13zM371 121h6v6h-6zM333 127h7v5h-7zM390 225h12v5h-12zM390 230h6v5h-6zM390 235h6v5h-6zM296 271h6v5h-6zM358 271h7v5h-7zM308 276h7v5h-7zM358 276h7v5h-7zM302 281h6v5h-6zM402 281h6v5h-6zM352 286h13v6h-13zM302 292h13v5h-13zM346 292h6v5h-6zM383 292h13v5h-13zM315 297h6v5h-6zM340 297h6v5h-6zM246 302h6v5h-6zM333 302h7v5h-7zM371 302h6v5h-6zM371 307h6v5h-6zM383 307h7v5h-7zM383 312h7v5h-7zM371 317h12v6h-12zM390 317h6v6h-6zM377 323h6v5h-6zM390 323h6v5h-6zM227 328h6v5h-6zM283 328h7v5h-7zM396 328h6v5h-6zM277 333h6v5h-6zM290 333h18v5h-18zM227 338h6v5h-6zM227 343h6v5h-6zM271 343h6v5h-6zM296 343h6v5h-6zM415 343h6v5h-6zM265 348h6v5h-6zM277 348h6v5h-6zM227 353h6v6h-6zM265 353h6v6h-6zM302 353h13v6h-13zM302 359h6v5h-6zM446 359h6v5h-6zM208 364h7v5h-7zM208 369h7v5h-7zM227 369h6v5h-6zM427 374h6v5h-6zM377 379h6v5h-6zM421 379h12v5h-12zM202 384h6v6h-6zM390 384h6v6h-6zM421 384h6v6h-6zM402 390h6v5h-6zM215 395h6v5h-6zM371 395h6v5h-6zM396 395h6v5h-6zM296 405h19v5h-19zM321 405h6v5h-6z"/><path fill="#8305fe" d="M477 116h6v5h-6zM502 116h6v5h-6zM477 121h6v6h-6zM471 127h12v5h-12zM471 132h6v5h-6zM102 147h6v5h-6zM440 147h6v5h-6zM433 158h7v5h-7zM315 173h6v5h-6zM221 183h6v5h-6zM227 188h6v6h-6zM277 194h6v5h-6zM421 199h6v5h-6zM333 204h7v5h-7zM302 209h6v5h-6zM227 219h6v6h-6zM427 225h6v5h-6zM427 230h6v5h-6zM296 245h6v5h-6zM158 317h7v6h-7zM158 323h13v5h-13zM158 328h7v5h-7zM158 348h7v5h-7zM496 359h6v5h-6zM502 364h6v5h-6zM152 369h6v5h-6zM146 379h6v5h-6zM140 384h6v6h-6zM521 395h4v5h-4zM515 400h6v5h-6z"/><path fill="#8706fb" d="M483 116h7v5h-7zM483 121h7v6h-7zM483 127h7v5h-7zM508 127h7v5h-7zM458 137h7v5h-7zM83 142h7v5h-7zM446 147h6v5h-6zM96 152h6v6h-6zM433 163h7v5h-7zM440 168h6v5h-6zM283 178h7v5h-7zM333 199h7v5h-7zM315 209h6v5h-6zM427 214h6v5h-6zM446 281h6v5h-6zM452 292h6v5h-6zM227 297h6v5h-6zM102 307h19v5h-19zM140 307h6v5h-6zM121 317h6v6h-6zM108 323h19v5h-19zM133 323h7v5h-7zM471 323h12v5h-12zM496 338h6v5h-6zM496 343h6v5h-6zM152 348h6v5h-6zM502 359h6v5h-6zM140 364h6v5h-6zM146 369h6v5h-6zM521 369h4v5h-4zM133 379h7v5h-7zM74 395h3v5h-3zM96 395h12v5h-12z"/><path fill="#8605fc" d="M490 116h6v5h-6zM502 121h13v6h-13zM477 132h6v5h-6zM96 147h6v5h-6zM102 152h6v6h-6zM115 152h12v6h-12zM183 168h7v5h-7zM208 178h7v5h-7zM308 209h7v5h-7zM327 209h6v5h-6zM427 219h6v6h-6zM433 250h7v6h-7zM440 266h6v5h-6zM446 292h6v5h-6zM121 302h6v5h-6zM215 302h6v5h-6zM146 317h6v6h-6zM502 343h6v5h-6zM502 348h6v5h-6zM146 364h6v5h-6zM508 364h7v5h-7zM146 374h6v5h-6zM521 374h4v5h-4zM521 379h4v5h-4zM127 384h6v6h-6zM74 390h3v5h-3zM115 390h6v5h-6zM515 395h6v5h-6zM83 400h7v5h-7z"/><path fill="#8405fe" d="M496 116h6v5h-6zM496 121h6v6h-6zM521 127h4v5h-4zM452 137h6v5h-6zM96 142h6v5h-6zM121 147h6v5h-6zM433 152h7v6h-7zM165 158h6v5h-6zM202 173h6v5h-6zM302 173h6v5h-6zM433 173h7v5h-7zM277 183h6v5h-6zM427 183h6v5h-6zM233 188h7v6h-7zM277 188h6v6h-6zM340 194h6v5h-6zM315 219h6v6h-6zM302 225h6v5h-6zM215 240h6v5h-6zM427 240h6v5h-6zM208 245h7v5h-7zM427 245h6v5h-6zM440 276h6v5h-6zM240 292h6v5h-6zM446 297h6v5h-6zM115 302h6v5h-6zM446 302h12v5h-12zM465 323h6v5h-6zM152 328h6v5h-6zM477 328h6v5h-6zM483 338h7v5h-7zM152 353h6v6h-6zM502 353h6v6h-6zM152 359h6v5h-6zM152 364h6v5h-6zM140 379h6v5h-6zM521 384h4v6h-4zM121 390h6v5h-6zM108 395h7v5h-7zM521 400h4v5h-4z"/><path fill="#8906f8" d="M490 121h6v6h-6zM502 127h6v5h-6zM496 132h6v5h-6zM508 132h7v5h-7zM465 137h6v5h-6zM452 147h6v5h-6zM115 158h6v5h-6zM127 158h6v5h-6zM146 158h19v5h-19zM440 158h12v5h-12zM190 173h6v5h-6zM433 178h7v5h-7zM327 183h6v5h-6zM427 188h6v6h-6zM427 194h6v5h-6zM427 209h6v5h-6zM221 235h6v5h-6zM433 240h7v5h-7zM277 256h6v5h-6zM446 271h6v5h-6zM446 276h6v5h-6zM83 297h7v5h-7zM133 297h7v5h-7zM452 297h6v5h-6zM83 302h13v5h-13zM458 302h7v5h-7zM77 307h6v5h-6zM96 307h6v5h-6zM146 307h6v5h-6zM115 312h6v5h-6zM458 312h7v5h-7zM471 312h6v5h-6zM146 323h6v5h-6zM127 328h6v5h-6zM146 328h6v5h-6zM483 328h7v5h-7zM152 338h6v5h-6zM490 338h6v5h-6zM502 338h6v5h-6zM140 343h6v5h-6zM508 343h7v5h-7zM515 348h6v5h-6zM115 379h6v5h-6zM121 384h6v6h-6zM102 390h6v5h-6zM90 400h6v5h-6z"/><path fill="#400063" d="M352 127h6v5h-6zM396 230h6v5h-6zM390 240h6v5h-6zM377 245h13v5h-13zM371 250h6v6h-6zM383 250h13v6h-13zM371 256h6v5h-6zM402 256h6v5h-6zM365 261h6v5h-6zM302 266h13v5h-13zM308 271h7v5h-7zM365 271h6v5h-6zM277 276h6v5h-6zM365 276h6v5h-6zM296 286h6v6h-6zM371 286h6v6h-6zM358 292h7v5h-7zM321 302h6v5h-6zM340 302h6v5h-6zM408 323h7v5h-7zM277 328h6v5h-6zM283 333h7v5h-7zM402 333h6v5h-6zM271 338h6v5h-6zM308 338h7v5h-7zM415 338h6v5h-6zM258 348h7v5h-7zM283 348h7v5h-7zM296 348h6v5h-6zM415 348h18v5h-18zM258 353h7v6h-7zM271 353h6v6h-6zM296 353h6v6h-6zM421 353h6v6h-6zM433 353h7v6h-7zM240 359h6v5h-6zM265 359h6v5h-6zM290 359h6v5h-6zM233 364h13v5h-13zM296 364h6v5h-6zM440 364h6v5h-6zM415 369h6v5h-6zM433 369h7v5h-7zM202 374h13v5h-13zM221 374h6v5h-6zM421 374h6v5h-6zM390 379h6v5h-6zM402 379h19v5h-19zM202 390h6v5h-6zM221 390h6v5h-6zM390 390h6v5h-6zM358 395h13v5h-13zM258 400h13v5h-13zM352 400h6v5h-6z"/><path fill="#8204ff" d="M465 127h6v5h-6zM465 132h6v5h-6zM83 137h7v5h-7zM121 142h6v5h-6zM446 142h6v5h-6zM196 168h12v5h-12zM215 173h6v5h-6zM240 173h6v5h-6zM290 173h6v5h-6zM215 178h6v5h-6zM340 188h6v6h-6zM358 194h7v5h-7zM246 204h6v5h-6zM333 209h13v5h-13zM277 219h6v6h-6zM296 219h12v6h-12zM321 219h6v6h-6zM308 225h7v5h-7zM208 250h7v6h-7zM433 261h7v5h-7zM433 271h7v5h-7zM133 317h13v6h-13zM165 328h6v5h-6zM477 333h6v5h-6zM158 343h7v5h-7zM158 359h7v5h-7zM508 369h7v5h-7zM508 374h7v5h-7zM515 379h6v5h-6zM146 384h6v6h-6zM515 384h6v6h-6zM127 390h6v5h-6zM140 390h6v5h-6zM515 390h10v5h-10zM115 395h12v5h-12zM102 400h6v5h-6zM115 400h6v5h-6zM90 405h6v5h-6z"/><path fill="#8a06f6" d="M490 127h6v5h-6zM483 132h13v5h-13zM502 132h6v5h-6zM440 163h6v5h-6zM177 168h6v5h-6zM208 183h7v5h-7zM283 194h7v5h-7zM240 199h6v5h-6zM308 204h7v5h-7zM240 209h6v5h-6zM296 225h6v5h-6zM302 230h6v5h-6zM308 235h7v5h-7zM433 235h7v5h-7zM208 240h7v5h-7zM290 245h6v5h-6zM433 245h7v5h-7zM208 261h7v5h-7zM271 261h6v5h-6zM452 286h6v6h-6zM96 297h6v5h-6zM96 302h6v5h-6zM108 302h7v5h-7zM83 307h13v5h-13zM133 307h7v5h-7zM102 312h6v5h-6zM146 312h6v5h-6zM102 323h6v5h-6zM490 323h6v5h-6zM115 328h12v5h-12zM133 328h13v5h-13zM115 333h6v5h-6zM133 338h7v5h-7zM146 338h6v5h-6zM127 343h13v5h-13zM146 343h6v5h-6zM508 348h7v5h-7zM146 353h6v6h-6zM515 353h6v6h-6zM146 359h6v5h-6zM127 364h6v5h-6zM521 364h4v5h-4zM133 369h13v5h-13zM140 374h6v5h-6zM121 379h6v5h-6zM74 400h3v5h-3z"/><path fill="#8806f9" d="M496 127h6v5h-6zM515 132h6v5h-6zM74 137h3v5h-3zM77 142h6v5h-6zM452 142h6v5h-6zM83 147h13v5h-13zM108 152h7v6h-7zM196 173h6v5h-6zM440 173h6v5h-6zM202 178h6v5h-6zM321 178h6v5h-6zM333 188h7v6h-7zM233 194h7v5h-7zM427 204h6v5h-6zM290 219h6v6h-6zM308 230h7v5h-7zM202 256h6v5h-6zM440 261h6v5h-6zM446 286h6v6h-6zM90 297h6v5h-6zM121 297h6v5h-6zM152 307h13v5h-13zM465 307h6v5h-6zM108 312h7v5h-7zM140 312h6v5h-6zM165 312h6v5h-6zM108 317h13v6h-13zM471 317h6v6h-6zM127 323h6v5h-6zM140 323h6v5h-6zM140 333h18v5h-18zM140 338h6v5h-6zM508 338h7v5h-7zM121 343h6v5h-6zM152 343h6v5h-6zM508 353h7v6h-7zM127 379h6v5h-6zM77 400h6v5h-6z"/><path fill="#8505fd" d="M515 127h6v5h-6zM521 132h4v5h-4zM146 152h6v6h-6zM177 163h6v5h-6zM433 168h7v5h-7zM296 173h6v5h-6zM308 173h7v5h-7zM221 188h6v6h-6zM290 199h6v5h-6zM340 199h6v5h-6zM340 204h6v5h-6zM321 214h6v5h-6zM302 240h6v5h-6zM233 256h7v5h-7zM433 256h7v5h-7zM440 271h6v5h-6zM440 281h6v5h-6zM458 307h7v5h-7zM127 312h13v5h-13zM152 312h13v5h-13zM127 317h6v6h-6zM152 317h6v6h-6zM458 317h13v6h-13zM152 323h6v5h-6zM483 333h7v5h-7zM496 348h6v5h-6zM515 364h6v5h-6zM515 369h6v5h-6zM515 374h6v5h-6zM133 384h7v6h-7zM96 400h6v5h-6z"/><path fill="#8c07f3" d="M471 137h6v5h-6zM74 142h3v5h-3zM458 142h13v5h-13zM458 147h7v5h-7zM452 152h6v6h-6zM452 158h6v5h-6zM196 178h6v5h-6zM215 183h6v5h-6zM283 188h7v6h-7zM296 199h6v5h-6zM427 199h6v5h-6zM321 209h6v5h-6zM283 219h7v6h-7zM265 230h6v5h-6zM433 230h7v5h-7zM440 250h6v6h-6zM452 276h6v5h-6zM115 297h6v5h-6zM102 302h6v5h-6zM133 302h13v5h-13zM208 302h7v5h-7zM74 307h3v5h-3zM477 307h6v5h-6zM502 307h6v5h-6zM77 312h13v5h-13zM121 312h6v5h-6zM508 312h7v5h-7zM102 317h6v6h-6zM508 323h7v5h-7zM502 328h6v5h-6zM127 333h6v5h-6zM490 333h6v5h-6zM515 343h6v5h-6zM127 348h6v5h-6zM140 359h6v5h-6zM121 364h6v5h-6zM121 369h6v5h-6zM127 374h6v5h-6zM77 390h6v5h-6zM90 395h6v5h-6z"/><path fill="#8e08ec" d="M477 137h6v5h-6zM521 137h4v5h-4zM83 152h7v6h-7zM90 158h6v5h-6zM108 163h7v5h-7zM158 163h13v5h-13zM227 194h6v5h-6zM433 225h7v5h-7zM440 240h6v5h-6zM221 261h6v5h-6zM458 286h7v6h-7zM490 297h6v5h-6zM74 312h3v5h-3zM477 312h6v5h-6zM74 323h3v5h-3zM502 323h6v5h-6zM96 328h6v5h-6zM108 328h7v5h-7zM508 333h13v5h-13zM108 338h13v5h-13zM521 343h4v5h-4zM521 348h4v5h-4zM521 359h4v5h-4zM115 374h6v5h-6zM96 390h6v5h-6z"/><path fill="#9008e6" d="M483 137h7v5h-7zM471 142h6v5h-6zM133 163h7v5h-7zM283 183h7v5h-7zM221 194h6v5h-6zM433 194h7v5h-7zM215 235h6v5h-6zM446 245h6v5h-6zM202 250h6v6h-6zM196 256h6v5h-6zM458 276h7v5h-7zM458 292h7v5h-7zM496 292h6v5h-6zM77 297h6v5h-6zM221 297h6v5h-6zM496 297h6v5h-6zM74 302h3v5h-3zM471 302h12v5h-12zM483 312h13v5h-13zM490 317h18v6h-18zM521 317h4v6h-4zM96 323h6v5h-6zM521 323h4v5h-4zM77 328h13v5h-13zM521 328h4v5h-4zM90 333h6v5h-6zM102 333h13v5h-13zM96 338h12v5h-12zM121 353h6v6h-6zM115 359h6v5h-6zM115 364h6v5h-6zM115 369h6v5h-6zM74 384h9v6h-9z"/><path fill="#940ada" d="M490 137h6v5h-6zM83 163h7v5h-7zM121 168h6v5h-6zM171 173h6v5h-6zM458 173h7v5h-7zM308 178h7v5h-7zM452 183h6v5h-6zM290 188h6v6h-6zM290 194h6v5h-6zM433 209h7v5h-7zM290 225h6v5h-6zM296 240h6v5h-6zM271 256h6v5h-6zM196 261h6v5h-6zM215 266h6v5h-6zM465 276h6v5h-6zM477 286h6v6h-6zM102 292h6v5h-6zM471 297h6v5h-6zM502 297h6v5h-6zM521 302h4v5h-4zM490 307h6v5h-6zM108 348h7v5h-7zM108 364h7v5h-7zM108 374h7v5h-7zM74 379h9v5h-9z"/><path fill="#9209e0" d="M496 137h6v5h-6zM471 147h6v5h-6zM96 158h6v5h-6zM77 163h6v5h-6zM140 163h6v5h-6zM158 168h7v5h-7zM458 168h7v5h-7zM183 178h7v5h-7zM446 178h6v5h-6zM440 183h6v5h-6zM458 183h7v5h-7zM327 188h6v6h-6zM440 188h6v6h-6zM433 199h7v5h-7zM240 204h6v5h-6zM433 219h7v6h-7zM208 235h7v5h-7zM440 235h6v5h-6zM277 250h6v6h-6zM446 256h6v5h-6zM452 266h6v5h-6zM483 292h7v5h-7zM502 292h6v5h-6zM458 297h7v5h-7zM483 297h7v5h-7zM496 302h12v5h-12zM483 307h7v5h-7zM496 307h6v5h-6zM496 312h6v5h-6zM521 312h4v5h-4zM108 369h7v5h-7zM83 384h7v6h-7z"/><path fill="#8f08e9" d="M502 137h6v5h-6zM74 147h3v5h-3zM465 147h6v5h-6zM458 152h7v6h-7zM152 163h6v5h-6zM127 168h6v5h-6zM452 168h6v5h-6zM177 173h6v5h-6zM452 173h6v5h-6zM202 183h6v5h-6zM227 214h6v5h-6zM221 225h6v5h-6zM283 245h7v5h-7zM446 266h6v5h-6zM452 271h6v5h-6zM458 281h7v5h-7zM108 297h7v5h-7zM146 297h6v5h-6zM515 307h6v5h-6zM515 312h6v5h-6zM83 317h19v6h-19zM483 317h7v6h-7zM77 323h13v5h-13zM90 338h6v5h-6zM521 338h4v5h-4zM115 343h6v5h-6zM115 348h6v5h-6zM115 353h6v6h-6zM521 353h4v6h-4zM108 379h7v5h-7zM102 384h6v6h-6zM90 390h6v5h-6z"/><path fill="#9109e3" d="M508 137h13v5h-13zM102 163h6v5h-6zM146 163h6v5h-6zM165 168h6v5h-6zM452 178h6v5h-6zM446 250h6v6h-6zM202 261h6v5h-6zM446 261h6v5h-6zM465 281h6v5h-6zM465 286h6v6h-6zM471 292h12v5h-12zM490 292h6v5h-6zM152 297h6v5h-6zM171 302h6v5h-6zM483 302h13v5h-13zM515 317h6v6h-6zM90 323h6v5h-6zM74 328h3v5h-3zM121 359h6v5h-6z"/><path fill="#9309dd" d="M477 142h6v5h-6zM77 152h6v6h-6zM83 158h7v5h-7zM90 163h6v5h-6zM133 168h7v5h-7zM296 178h6v5h-6zM315 178h6v5h-6zM458 178h7v5h-7zM196 183h6v5h-6zM433 204h7v5h-7zM277 225h6v5h-6zM202 245h6v5h-6zM227 261h6v5h-6zM202 266h6v5h-6zM465 292h6v5h-6zM74 297h3v5h-3zM158 302h13v5h-13zM183 302h13v5h-13zM521 307h4v5h-4zM90 328h6v5h-6zM515 328h6v5h-6zM77 333h13v5h-13zM108 343h7v5h-7zM108 359h7v5h-7z"/><path fill="#970bcf" d="M483 142h7v5h-7zM502 142h6v5h-6zM515 142h6v5h-6zM74 152h3v6h-3zM74 158h9v5h-9zM465 158h6v5h-6zM127 173h6v5h-6zM158 173h13v5h-13zM215 188h6v6h-6zM440 209h6v5h-6zM196 250h6v6h-6zM265 266h6v5h-6zM458 266h7v5h-7zM246 281h6v5h-6zM490 286h6v6h-6zM108 292h7v5h-7zM233 292h7v5h-7zM508 292h7v5h-7zM521 292h4v5h-4zM508 297h7v5h-7zM77 338h6v5h-6zM83 343h7v5h-7zM108 353h7v6h-7zM96 369h6v5h-6zM96 374h6v5h-6zM83 379h7v5h-7z"/><path fill="#9a0dbe" d="M490 142h6v5h-6zM152 168h6v5h-6zM121 173h6v5h-6zM133 173h7v5h-7zM296 188h6v6h-6zM458 188h7v6h-7zM215 194h6v5h-6zM221 199h6v5h-6zM315 199h6v5h-6zM327 199h6v5h-6zM221 209h6v5h-6zM440 219h6v6h-6zM233 261h7v5h-7zM452 261h6v5h-6zM477 276h6v5h-6zM96 286h6v6h-6zM521 286h4v6h-4zM196 302h6v5h-6zM74 338h3v5h-3zM90 374h6v5h-6zM102 374h6v5h-6zM90 379h6v5h-6z"/><path fill="#990cc7" d="M496 142h6v5h-6zM508 142h7v5h-7zM521 147h4v5h-4zM183 183h7v5h-7zM290 183h6v5h-6zM227 199h6v5h-6zM440 199h6v5h-6zM440 204h6v5h-6zM233 209h7v5h-7zM440 230h6v5h-6zM202 240h6v5h-6zM196 266h6v5h-6zM252 276h6v5h-6zM477 281h6v5h-6zM83 286h7v6h-7zM515 286h6v6h-6zM133 292h7v5h-7zM158 297h7v5h-7zM102 369h6v5h-6zM74 374h3v5h-3z"/><path fill="#960bd3" d="M521 142h4v5h-4zM465 152h6v6h-6zM74 163h3v5h-3zM96 163h6v5h-6zM190 183h6v5h-6zM321 183h6v5h-6zM440 194h6v5h-6zM221 214h6v5h-6zM433 214h7v5h-7zM221 219h6v6h-6zM215 230h6v5h-6zM258 245h7v5h-7zM258 271h7v5h-7zM458 271h7v5h-7zM471 276h6v5h-6zM483 286h7v6h-7zM515 302h6v5h-6zM83 338h7v5h-7zM96 379h6v5h-6zM90 384h6v6h-6z"/><path fill="#8d07f1" d="M77 147h6v5h-6zM446 152h6v6h-6zM108 158h7v5h-7zM127 163h6v5h-6zM446 163h12v5h-12zM290 178h6v5h-6zM433 183h7v5h-7zM433 188h7v6h-7zM327 204h6v5h-6zM208 266h7v5h-7zM127 302h6v5h-6zM146 302h6v5h-6zM77 317h6v6h-6zM477 317h6v6h-6zM496 323h6v5h-6zM102 328h6v5h-6zM96 333h6v5h-6zM515 359h6v5h-6zM115 384h6v6h-6z"/><path fill="#980bcb" d="M477 147h6v5h-6zM515 147h6v5h-6zM202 188h6v6h-6zM452 188h6v6h-6zM90 286h6v6h-6zM496 286h12v6h-12zM74 292h3v5h-3zM96 292h6v5h-6zM515 292h6v5h-6zM508 302h7v5h-7zM96 343h6v5h-6zM102 379h6v5h-6z"/><path fill="#9b0dba" d="M483 147h13v5h-13zM465 163h6v5h-6zM102 168h6v5h-6zM171 178h6v5h-6zM196 188h6v6h-6zM202 194h6v5h-6zM296 194h6v5h-6zM308 199h7v5h-7zM215 225h6v5h-6zM265 235h6v5h-6zM452 256h6v5h-6zM221 266h6v5h-6zM483 281h7v5h-7zM74 286h9v6h-9zM74 348h3v5h-3zM90 348h6v5h-6zM102 348h6v5h-6zM90 369h6v5h-6zM77 374h6v5h-6z"/><path fill="#9e0eab" d="M496 147h6v5h-6zM165 178h6v5h-6zM446 199h6v5h-6zM215 219h6v6h-6zM277 245h6v5h-6zM190 256h6v5h-6zM115 292h6v5h-6zM77 353h6v6h-6zM77 359h6v5h-6zM102 364h6v5h-6z"/><path fill="#9f0fa1" d="M502 147h6v5h-6zM140 173h6v5h-6zM465 178h6v5h-6zM215 214h6v5h-6zM240 281h6v5h-6zM146 292h6v5h-6zM102 353h6v6h-6zM83 359h7v5h-7zM77 369h6v5h-6z"/><path fill="#9f0fa7" d="M508 147h7v5h-7zM146 168h6v5h-6zM465 168h6v5h-6zM152 173h6v5h-6zM171 183h6v5h-6zM190 188h6v6h-6zM196 194h6v5h-6zM327 194h6v5h-6zM446 209h6v5h-6zM296 230h6v5h-6zM271 250h6v6h-6zM165 297h12v5h-12zM215 297h6v5h-6zM77 348h6v5h-6zM74 364h3v5h-3zM83 374h7v5h-7z"/><path fill="#8b07f5" d="M90 152h6v6h-6zM440 152h6v6h-6zM121 158h6v5h-6zM133 158h13v5h-13zM171 163h6v5h-6zM333 194h7v5h-7zM271 225h6v5h-6zM221 230h6v5h-6zM240 256h6v5h-6zM215 261h6v5h-6zM452 281h6v5h-6zM102 297h6v5h-6zM121 307h12v5h-12zM165 307h6v5h-6zM471 307h6v5h-6zM90 312h6v5h-6zM465 312h6v5h-6zM483 323h7v5h-7zM490 328h6v5h-6zM133 333h7v5h-7zM496 333h6v5h-6zM127 338h6v5h-6zM121 348h6v5h-6zM146 348h6v5h-6zM508 359h7v5h-7zM133 364h7v5h-7zM127 369h6v5h-6zM121 374h6v5h-6zM133 374h7v5h-7zM83 390h7v5h-7zM108 390h7v5h-7zM77 395h13v5h-13z"/><path fill="#990cc3" d="M471 152h6v6h-6zM108 168h13v5h-13zM140 168h6v5h-6zM446 194h6v5h-6zM302 199h6v5h-6zM227 209h6v5h-6zM283 225h7v5h-7zM208 230h7v5h-7zM465 271h12v5h-12zM490 281h6v5h-6zM508 286h7v6h-7zM77 292h6v5h-6zM515 297h6v5h-6zM74 343h9v5h-9z"/><path fill="#9d0eb0" d="M477 152h6v6h-6zM158 178h7v5h-7zM177 183h6v5h-6zM321 188h6v6h-6zM208 194h7v5h-7zM202 235h6v5h-6zM196 245h6v5h-6zM108 286h7v6h-7zM121 292h6v5h-6zM140 292h6v5h-6zM96 348h6v5h-6zM83 353h7v6h-7zM74 359h3v5h-3z"/><path fill="#a0109c" d="M483 152h7v6h-7zM471 158h6v5h-6zM465 173h6v5h-6zM296 183h6v5h-6zM315 183h6v5h-6zM183 188h7v6h-7zM221 204h12v5h-12zM446 214h6v5h-6zM208 225h7v5h-7zM240 261h6v5h-6zM458 261h7v5h-7zM483 276h7v5h-7zM496 281h6v5h-6zM96 353h6v6h-6zM102 359h6v5h-6zM77 364h6v5h-6zM96 364h6v5h-6zM83 369h7v5h-7z"/><path fill="#a41286" d="M490 152h6v6h-6zM515 152h6v6h-6zM115 173h6v5h-6zM146 178h12v5h-12zM165 183h6v5h-6zM183 194h7v5h-7zM458 194h7v5h-7zM208 199h7v5h-7zM452 199h6v5h-6zM208 204h7v5h-7zM208 214h7v5h-7zM271 230h6v5h-6zM190 250h6v6h-6zM458 256h7v5h-7zM465 261h6v5h-6zM490 276h6v5h-6zM115 286h6v6h-6z"/><path fill="#a81569" d="M496 152h6v6h-6zM127 178h6v5h-6zM152 183h6v5h-6zM165 188h6v6h-6zM196 199h6v5h-6zM452 204h6v5h-6zM208 209h7v5h-7zM202 219h6v6h-6zM446 225h6v5h-6zM190 245h6v5h-6zM127 286h6v6h-6z"/><path fill="#aa1657" d="M502 152h6v6h-6zM90 173h6v5h-6zM146 183h6v5h-6zM465 188h6v6h-6zM315 194h6v5h-6zM190 204h6v5h-6zM183 209h7v5h-7zM196 219h6v6h-6zM196 235h6v5h-6zM183 256h7v5h-7zM252 256h6v5h-6zM196 271h6v5h-6zM502 276h6v5h-6zM77 281h6v5h-6zM177 292h6v5h-6z"/><path fill="#ab1750" d="M508 152h7v6h-7zM477 163h6v5h-6zM196 204h6v5h-6zM190 209h6v5h-6zM190 214h6v5h-6zM196 230h6v5h-6zM465 256h6v5h-6zM246 261h6v5h-6zM74 281h3v5h-3zM133 286h7v6h-7z"/><path fill="#a21192" d="M521 152h4v6h-4zM302 183h6v5h-6zM190 194h6v5h-6zM233 204h7v5h-7zM208 219h7v6h-7zM446 230h6v5h-6zM471 266h6v5h-6zM96 359h6v5h-6z"/><path fill="#8e07ee" d="M102 158h6v5h-6zM458 158h7v5h-7zM115 163h12v5h-12zM458 163h7v5h-7zM171 168h6v5h-6zM446 168h6v5h-6zM183 173h7v5h-7zM446 173h6v5h-6zM190 178h6v5h-6zM440 178h6v5h-6zM315 204h6v5h-6zM302 235h6v5h-6zM440 245h6v5h-6zM440 256h6v5h-6zM127 297h6v5h-6zM140 297h6v5h-6zM77 302h6v5h-6zM152 302h6v5h-6zM465 302h6v5h-6zM508 307h7v5h-7zM96 312h6v5h-6zM502 312h6v5h-6zM74 317h3v6h-3zM508 317h7v6h-7zM515 323h6v5h-6zM496 328h6v5h-6zM508 328h7v5h-7zM121 333h6v5h-6zM502 333h6v5h-6zM521 333h4v5h-4zM121 338h6v5h-6zM515 338h6v5h-6zM133 348h13v5h-13zM127 353h19v6h-19zM127 359h13v5h-13zM108 384h7v6h-7z"/><path fill="#a41281" d="M477 158h6v5h-6zM96 173h6v5h-6zM140 178h6v5h-6zM158 183h7v5h-7zM177 188h6v6h-6zM321 194h6v5h-6zM183 199h7v5h-7zM202 199h6v5h-6zM446 219h6v6h-6zM265 261h6v5h-6zM177 297h6v5h-6zM90 359h6v5h-6z"/><path fill="#ac184a" d="M483 158h7v5h-7zM158 188h7v6h-7zM458 199h7v5h-7zM215 271h6v5h-6zM252 271h6v5h-6zM508 276h13v5h-13zM233 281h7v5h-7z"/><path fill="#b52000" d="M490 158h6v5h-6zM471 188h6v6h-6zM158 194h7v5h-7zM165 204h6v5h-6zM452 225h6v5h-6z"/><path fill="#b82500" d="M496 158h6v5h-6zM77 178h6v5h-6zM477 183h6v5h-6zM302 194h6v5h-6zM246 271h6v5h-6zM171 286h6v6h-6z"/><path fill="#b72300" d="M502 158h6v5h-6zM477 178h6v5h-6zM115 183h6v5h-6zM471 256h6v5h-6zM177 261h6v5h-6zM496 271h6v5h-6zM121 281h6v5h-6zM227 281h6v5h-6zM190 292h6v5h-6z"/><path fill="#b42002" d="M508 158h7v5h-7zM90 178h6v5h-6zM121 183h6v5h-6zM465 199h6v5h-6zM171 214h6v5h-6zM277 240h6v5h-6zM190 271h6v5h-6zM490 271h6v5h-6zM115 281h6v5h-6zM183 292h7v5h-7zM196 297h6v5h-6z"/><path fill="#b01c23" d="M515 158h6v5h-6zM127 183h6v5h-6zM183 250h7v6h-7zM458 250h7v6h-7zM108 281h7v5h-7zM158 292h7v5h-7z"/><path fill="#ac1844" d="M521 158h4v5h-4zM171 194h6v5h-6zM165 199h6v5h-6zM196 225h6v5h-6zM296 235h6v5h-6zM283 240h7v5h-7zM83 281h13v5h-13zM202 297h6v5h-6z"/><path fill="#a11097" d="M471 163h6v5h-6zM90 168h6v5h-6zM465 183h6v5h-6zM215 199h6v5h-6zM321 199h6v5h-6zM202 230h6v5h-6zM452 250h6v6h-6zM190 261h6v5h-6zM227 292h6v5h-6zM90 353h6v6h-6z"/><path fill="#b82400" d="M483 163h7v5h-7zM158 199h7v5h-7zM465 204h6v5h-6zM258 261h7v5h-7z"/><path fill="#c02f00" d="M490 163h6v5h-6zM133 194h7v5h-7zM152 199h6v5h-6zM158 209h7v5h-7zM177 245h6v5h-6zM190 281h6v5h-6z"/><path fill="#c63800" d="M496 163h6v5h-6zM515 183h6v5h-6zM108 276h7v5h-7zM158 286h7v6h-7z"/><path fill="#c43400" d="M502 163h6v5h-6zM515 173h6v5h-6zM490 183h6v5h-6zM127 194h6v5h-6zM177 225h6v5h-6zM177 240h6v5h-6zM496 266h6v5h-6zM177 271h6v5h-6zM171 281h6v5h-6zM183 281h7v5h-7zM196 286h6v6h-6zM215 286h6v6h-6z"/><path fill="#c23100" d="M508 163h7v5h-7zM83 183h7v5h-7zM477 194h6v5h-6zM458 225h7v5h-7zM183 235h7v5h-7zM177 266h6v5h-6zM190 286h6v6h-6z"/><path fill="#bc2900" d="M515 163h6v5h-6zM521 178h4v5h-4zM483 183h7v5h-7zM465 250h6v6h-6zM190 276h6v5h-6zM215 276h6v5h-6z"/><path fill="#b62200" d="M521 163h4v5h-4zM458 219h7v6h-7zM190 235h6v5h-6zM271 235h6v5h-6zM208 276h7v5h-7z"/><path fill="#a81563" d="M74 168h3v5h-3zM102 173h6v5h-6zM471 178h6v5h-6zM171 188h6v6h-6zM177 199h6v5h-6zM183 204h7v5h-7zM202 204h6v5h-6zM202 209h6v5h-6zM227 266h6v5h-6zM521 281h4v5h-4zM233 286h7v6h-7zM171 292h6v5h-6z"/><path fill="#a61375" d="M77 168h13v5h-13zM133 178h7v5h-7zM215 209h6v5h-6zM202 214h6v5h-6zM452 214h6v5h-6zM496 276h6v5h-6zM508 281h7v5h-7zM183 297h7v5h-7z"/><path fill="#9c0db5" d="M96 168h6v5h-6zM452 194h6v5h-6zM446 204h6v5h-6zM440 214h6v5h-6zM440 225h6v5h-6zM446 235h6v5h-6zM465 266h6v5h-6zM102 286h6v6h-6zM127 292h6v5h-6zM83 348h7v5h-7zM74 353h3v6h-3zM74 369h3v5h-3z"/><path fill="#a5137b" d="M471 168h6v5h-6zM308 183h7v5h-7zM215 204h6v5h-6zM265 240h6v5h-6zM290 240h6v5h-6zM208 271h7v5h-7zM477 271h6v5h-6zM502 281h6v5h-6zM221 292h6v5h-6z"/><path fill="#b31e0f" d="M477 168h6v5h-6zM74 173h3v5h-3zM102 178h6v5h-6zM133 183h7v5h-7zM146 188h6v6h-6zM458 209h7v5h-7zM458 214h7v5h-7zM190 219h6v6h-6zM190 230h6v5h-6zM277 230h13v5h-13zM221 271h6v5h-6z"/><path fill="#bd2a00" d="M483 168h7v5h-7zM483 178h7v5h-7zM96 183h6v5h-6zM465 209h6v5h-6zM458 245h7v5h-7zM246 266h6v5h-6zM483 266h7v5h-7zM221 281h6v5h-6z"/><path fill="#c23200" d="M490 168h6v5h-6zM490 178h6v5h-6zM483 188h7v6h-7zM471 209h6v5h-6zM177 281h6v5h-6z"/><path fill="#c93c00" d="M496 168h6v5h-6zM508 168h7v5h-7zM477 199h6v5h-6zM171 245h6v5h-6zM171 261h6v5h-6z"/><path fill="#c83b00" d="M502 168h6v5h-6zM508 178h13v5h-13zM108 188h7v6h-7zM483 199h7v5h-7zM483 204h7v5h-7zM471 225h6v5h-6zM177 235h6v5h-6zM96 276h6v5h-6zM177 276h6v5h-6z"/><path fill="#c33300" d="M515 168h6v5h-6zM483 194h7v5h-7zM165 214h6v5h-6zM465 225h6v5h-6zM202 281h13v5h-13zM183 286h7v6h-7z"/><path fill="#bb2800" d="M521 168h4v5h-4zM152 194h6v5h-6zM165 209h6v5h-6zM183 219h7v6h-7zM183 240h7v5h-7zM233 271h7v5h-7zM77 276h6v5h-6zM227 276h6v5h-6zM221 286h6v6h-6zM196 292h6v5h-6z"/><path fill="#b11d1d" d="M77 173h13v5h-13zM183 214h7v5h-7zM140 286h6v6h-6zM165 292h6v5h-6z"/><path fill="#a7146f" d="M108 173h7v5h-7zM190 199h6v5h-6zM196 214h6v5h-6zM202 225h6v5h-6zM452 245h6v5h-6zM190 266h6v5h-6zM202 271h6v5h-6zM515 281h6v5h-6zM121 286h6v6h-6zM152 292h6v5h-6zM208 297h7v5h-7z"/><path fill="#a3118c" d="M146 173h6v5h-6zM196 240h6v5h-6zM83 364h13v5h-13z"/><path fill="#a9165d" d="M471 173h6v5h-6zM121 178h6v5h-6zM315 188h6v6h-6zM177 194h6v5h-6zM171 199h6v5h-6zM177 204h6v5h-6zM177 209h6v5h-6zM196 209h6v5h-6zM452 209h6v5h-6z"/><path fill="#b62100" d="M477 173h6v5h-6zM140 188h6v6h-6zM308 188h7v6h-7zM471 194h6v5h-6zM190 225h6v5h-6zM452 230h6v5h-6zM265 245h6v5h-6zM265 250h6v6h-6zM177 256h6v5h-6zM183 266h7v5h-7zM240 276h6v5h-6z"/><path fill="#bf2d00" d="M483 173h7v5h-7zM90 183h6v5h-6zM108 183h7v5h-7zM140 194h6v5h-6zM465 214h6v5h-6zM183 225h7v5h-7zM277 235h6v5h-6zM196 281h6v5h-6zM165 286h6v6h-6z"/><path fill="#c53500" d="M490 173h6v5h-6zM471 214h6v5h-6zM458 230h7v5h-7z"/><path fill="#cd4500" d="M496 173h6v5h-6zM508 183h7v5h-7zM502 199h6v5h-6zM477 214h6v5h-6zM483 261h13v5h-13zM171 266h6v5h-6zM508 266h7v5h-7z"/><path fill="#cb4000" d="M502 173h6v5h-6zM490 199h6v5h-6zM171 225h6v5h-6zM465 230h6v5h-6z"/><path fill="#c53700" d="M508 173h7v5h-7zM490 188h6v6h-6zM152 204h6v5h-6zM165 219h6v6h-6zM471 250h6v6h-6zM74 271h3v5h-3z"/><path fill="#bb2700" d="M521 173h4v5h-4zM74 178h3v5h-3zM127 188h6v6h-6zM258 256h7v5h-7zM502 271h6v5h-6zM196 276h6v5h-6zM202 292h6v5h-6z"/><path fill="#ba2600" d="M83 178h7v5h-7zM471 199h6v5h-6zM271 240h6v5h-6zM240 266h6v5h-6zM252 266h6v5h-6zM227 271h6v5h-6zM177 286h6v6h-6zM208 292h7v5h-7z"/><path fill="#b21d16" d="M96 178h6v5h-6zM452 235h6v5h-6zM183 245h7v5h-7zM252 261h6v5h-6zM74 276h3v5h-3zM146 286h6v6h-6z"/><path fill="#b01b2a" d="M108 178h7v5h-7zM152 188h6v6h-6zM302 188h6v6h-6zM465 194h6v5h-6zM171 204h6v5h-6zM171 209h6v5h-6zM177 214h6v5h-6zM290 230h6v5h-6zM265 256h6v5h-6zM477 266h6v5h-6zM96 281h12v5h-12z"/><path fill="#ad193d" d="M115 178h6v5h-6zM190 240h6v5h-6zM246 276h6v5h-6zM215 292h6v5h-6zM190 297h6v5h-6z"/><path fill="#950ad6" d="M177 178h6v5h-6zM302 178h6v5h-6zM446 183h6v5h-6zM208 188h7v6h-7zM446 188h6v6h-6zM233 199h7v5h-7zM321 204h6v5h-6zM446 240h6v5h-6zM252 250h6v6h-6zM246 256h6v5h-6zM471 281h6v5h-6zM240 286h6v6h-6zM471 286h6v6h-6zM83 292h13v5h-13zM465 297h6v5h-6zM477 297h6v5h-6zM521 297h4v5h-4zM177 302h6v5h-6zM202 302h6v5h-6zM74 333h3v5h-3zM90 343h6v5h-6zM102 343h6v5h-6zM96 384h6v6h-6z"/><path fill="#cb4100" d="M496 178h6v5h-6zM502 183h6v5h-6zM102 188h6v6h-6zM496 194h6v5h-6zM158 214h7v5h-7zM171 240h6v5h-6zM171 250h6v6h-6zM502 266h6v5h-6zM133 281h7v5h-7zM202 286h6v6h-6z"/><path fill="#c93e00" d="M502 178h6v5h-6zM140 199h6v5h-6zM146 204h6v5h-6zM152 209h6v5h-6zM477 209h6v5h-6zM477 256h6v5h-6zM115 276h6v5h-6z"/><path fill="#c73a00" d="M74 183h3v5h-3zM146 199h6v5h-6zM477 204h6v5h-6zM471 219h6v6h-6zM177 230h6v5h-6zM458 235h7v5h-7zM171 256h6v5h-6zM102 276h6v5h-6z"/><path fill="#c13000" d="M77 183h6v5h-6zM521 183h4v5h-4zM490 266h6v5h-6zM521 271h4v5h-4zM183 276h7v5h-7zM127 281h6v5h-6z"/><path fill="#be2c00" d="M102 183h6v5h-6zM115 188h6v6h-6zM146 194h6v5h-6zM158 204h7v5h-7zM171 219h6v6h-6zM477 261h6v5h-6zM240 271h6v5h-6zM221 276h6v5h-6z"/><path fill="#ae1a37" d="M140 183h6v5h-6zM471 183h6v5h-6zM165 194h6v5h-6zM458 204h7v5h-7zM452 219h6v6h-6zM183 261h7v5h-7zM471 261h6v5h-6zM258 266h7v5h-7z"/><path fill="#cd4400" d="M496 183h6v5h-6zM77 188h19v6h-19zM496 188h6v6h-6zM502 194h6v5h-6zM477 219h6v6h-6zM458 240h7v5h-7zM77 271h6v5h-6zM121 276h6v5h-6z"/><path fill="#ce4700" d="M74 188h3v6h-3zM171 230h6v5h-6zM165 281h6v5h-6z"/><path fill="#cc4300" d="M96 188h6v6h-6zM502 188h6v6h-6zM515 188h10v6h-10zM133 199h7v5h-7zM490 204h6v5h-6zM465 245h6v5h-6z"/><path fill="#be2b00" d="M121 188h6v6h-6zM477 188h6v6h-6zM177 219h6v6h-6zM283 235h7v5h-7zM177 250h6v6h-6zM508 271h13v5h-13z"/><path fill="#b92500" d="M133 188h7v6h-7zM308 194h7v5h-7zM183 271h7v5h-7zM202 276h6v5h-6zM233 276h7v5h-7zM152 286h6v6h-6z"/><path fill="#d04c00" d="M508 188h7v6h-7zM521 194h4v5h-4zM490 209h6v5h-6zM496 261h6v5h-6zM208 286h7v6h-7z"/><path fill="#d35200" d="M74 194h3v5h-3zM496 204h6v5h-6zM508 204h7v5h-7zM465 235h6v5h-6zM165 240h6v5h-6zM102 271h13v5h-13zM146 281h6v5h-6z"/><path fill="#d75b00" d="M77 194h6v5h-6zM502 214h13v5h-13zM74 266h3v5h-3z"/><path fill="#d96000" d="M83 194h7v5h-7zM515 214h6v5h-6zM158 225h7v5h-7zM477 230h6v5h-6zM152 235h6v5h-6zM496 256h6v5h-6z"/><path fill="#dd6c00" d="M90 194h6v5h-6zM74 214h3v5h-3zM521 219h4v6h-4zM121 230h6v5h-6zM77 235h6v5h-6zM121 240h12v5h-12zM477 240h6v5h-6zM483 256h7v5h-7zM515 261h6v5h-6z"/><path fill="#db6700" d="M96 194h6v5h-6zM74 204h3v5h-3zM127 204h6v5h-6zM515 219h6v6h-6zM521 225h4v5h-4zM90 240h6v5h-6zM77 266h6v5h-6z"/><path fill="#d65800" d="M102 194h6v5h-6zM133 204h7v5h-7zM521 204h4v5h-4zM140 209h6v5h-6zM502 209h6v5h-6zM515 209h6v5h-6zM483 225h13v5h-13zM165 235h6v5h-6z"/><path fill="#cf4800" d="M108 194h7v5h-7zM496 199h6v5h-6zM152 214h6v5h-6zM477 225h6v5h-6zM90 271h6v5h-6zM171 271h6v5h-6z"/><path fill="#ca3f00" d="M115 194h6v5h-6z"/><path fill="#c73900" d="M121 194h6v5h-6zM490 194h6v5h-6z"/><path fill="#d14e00" d="M508 194h7v5h-7zM508 199h7v5h-7zM83 271h7v5h-7zM96 271h6v5h-6z"/><path fill="#cf4900" d="M515 194h6v5h-6zM483 209h7v5h-7zM483 219h7v6h-7zM171 235h6v5h-6z"/><path fill="#d65a00" d="M74 199h3v5h-3zM496 209h6v5h-6zM477 250h6v6h-6z"/><path fill="#db6500" d="M77 199h6v5h-6zM496 214h6v5h-6zM496 219h6v6h-6zM496 225h6v5h-6zM152 230h6v5h-6zM83 240h7v5h-7zM165 266h6v5h-6zM165 271h6v5h-6zM165 276h6v5h-6z"/><path fill="#dc6900" d="M83 199h7v5h-7zM115 199h6v5h-6zM74 209h3v5h-3zM140 219h6v6h-6zM502 225h6v5h-6zM77 230h6v5h-6zM140 230h12v5h-12zM477 235h6v5h-6zM158 256h7v5h-7zM102 266h6v5h-6z"/><path fill="#e27d00" d="M90 199h6v5h-6zM83 214h7v5h-7zM83 219h7v6h-7zM83 225h7v5h-7zM102 225h6v5h-6zM121 225h6v5h-6zM508 235h7v5h-7zM496 245h6v5h-6zM140 256h6v5h-6z"/><path fill="#e58700" d="M96 199h6v5h-6zM121 204h6v5h-6zM127 219h6v6h-6zM90 225h6v5h-6zM490 240h6v5h-6zM521 245h4v5h-4zM115 250h6v6h-6z"/><path fill="#e17900" d="M102 199h6v5h-6zM127 225h6v5h-6zM508 230h7v5h-7zM108 240h7v5h-7zM77 245h6v5h-6zM102 245h6v5h-6zM515 245h6v5h-6zM140 250h6v6h-6zM146 256h6v5h-6zM83 266h7v5h-7z"/><path fill="#e17700" d="M108 199h7v5h-7zM77 204h6v5h-6zM77 214h6v5h-6zM77 225h6v5h-6zM133 230h7v5h-7zM502 230h6v5h-6zM115 240h6v5h-6zM496 240h6v5h-6zM108 245h7v5h-7zM127 245h6v5h-6zM158 261h7v5h-7zM90 266h6v5h-6zM108 266h7v5h-7z"/><path fill="#d75d00" d="M121 199h6v5h-6zM521 214h4v5h-4zM152 219h6v6h-6zM508 219h7v6h-7zM158 230h7v5h-7zM83 235h7v5h-7zM108 235h7v5h-7zM158 235h7v5h-7zM471 235h6v5h-6zM158 240h7v5h-7zM471 240h6v5h-6zM158 245h7v5h-7zM490 256h6v5h-6zM115 271h6v5h-6z"/><path fill="#d04b00" d="M127 199h6v5h-6zM146 209h6v5h-6zM158 219h7v6h-7zM171 276h6v5h-6zM140 281h6v5h-6z"/><path fill="#d25100" d="M515 199h6v5h-6zM140 204h6v5h-6zM502 204h6v5h-6zM483 214h7v5h-7zM515 266h6v5h-6z"/><path fill="#d45500" d="M521 199h4v5h-4zM515 204h6v5h-6zM508 209h7v5h-7zM146 214h6v5h-6zM165 250h6v6h-6zM165 261h6v5h-6zM521 266h4v5h-4z"/><path fill="#e37f00" d="M83 204h7v5h-7zM108 225h13v5h-13zM133 245h7v5h-7zM502 245h6v5h-6zM133 250h7v6h-7z"/><path fill="#eb9d00" d="M90 204h6v5h-6zM121 214h6v5h-6zM152 276h6v5h-6z"/><path fill="#f1b800" d="M96 204h12v5h-12z"/><path fill="#efab00" d="M108 204h7v5h-7zM90 256h12v5h-12zM108 256h7v5h-7zM140 261h6v5h-6z"/><path fill="#e68900" d="M115 204h6v5h-6zM83 209h7v5h-7zM127 214h6v5h-6zM121 250h6v6h-6zM127 256h6v5h-6z"/><path fill="#c02e00" d="M471 204h6v5h-6zM465 219h6v6h-6zM183 230h7v5h-7zM290 235h6v5h-6zM83 276h13v5h-13zM215 281h6v5h-6z"/><path fill="#df7300" d="M77 209h6v5h-6zM127 209h6v5h-6zM502 235h6v5h-6zM140 240h6v5h-6zM515 240h6v5h-6zM96 245h6v5h-6zM121 245h6v5h-6zM508 245h7v5h-7zM152 256h6v5h-6z"/><path fill="#eca200" d="M90 209h6v5h-6zM521 250h4v6h-4zM140 276h6v5h-6z"/><path fill="#f2ba00" d="M96 209h6v5h-6zM96 214h6v5h-6z"/><path fill="#f7d200" d="M102 209h6v5h-6z"/><path fill="#f3bf00" d="M108 209h7v5h-7zM83 256h7v5h-7z"/><path fill="#eda400" d="M115 209h6v5h-6zM115 256h6v5h-6z"/><path fill="#ea9900" d="M121 209h6v5h-6zM96 261h6v5h-6zM158 266h7v5h-7z"/><path fill="#d96200" d="M133 209h7v5h-7zM465 240h6v5h-6zM508 261h7v5h-7z"/><path fill="#d55700" d="M521 209h4v5h-4zM490 219h6v6h-6zM165 230h6v5h-6zM502 261h6v5h-6zM152 281h6v5h-6z"/><path fill="#e78e00" d="M90 214h6v5h-6zM483 250h7v6h-7zM158 276h7v5h-7z"/><path fill="#f5c700" d="M102 214h6v5h-6zM152 266h6v5h-6zM133 271h7v5h-7z"/><path fill="#f3bd00" d="M108 214h7v5h-7zM483 245h7v5h-7z"/><path fill="#eda600" d="M115 214h6v5h-6zM74 250h9v6h-9zM102 256h6v5h-6zM127 261h6v5h-6z"/><path fill="#e48300" d="M133 214h7v5h-7zM502 240h6v5h-6z"/><path fill="#df7200" d="M140 214h6v5h-6zM146 225h6v5h-6zM74 230h3v5h-3zM83 230h7v5h-7zM108 230h7v5h-7zM496 230h6v5h-6zM74 235h3v5h-3zM133 235h7v5h-7zM96 240h6v5h-6zM90 245h6v5h-6zM496 250h6v6h-6zM502 256h6v5h-6z"/><path fill="#d45300" d="M490 214h6v5h-6zM165 245h6v5h-6z"/><path fill="#de7000" d="M74 219h3v6h-3zM74 225h3v5h-3zM133 225h7v5h-7zM515 225h6v5h-6zM96 230h6v5h-6zM521 230h4v5h-4zM96 235h12v5h-12zM490 235h6v5h-6zM521 235h4v5h-4zM133 240h7v5h-7zM96 266h6v5h-6z"/><path fill="#e27b00" d="M77 219h6v6h-6zM515 230h6v5h-6zM515 235h6v5h-6zM74 240h3v5h-3zM102 240h6v5h-6zM477 245h6v5h-6zM490 250h6v6h-6zM508 250h7v6h-7z"/><path fill="#e78b00" d="M90 219h6v6h-6zM121 219h6v6h-6zM102 250h13v6h-13zM133 256h7v5h-7zM508 256h7v5h-7zM115 266h6v5h-6z"/><path fill="#eea900" d="M96 219h6v6h-6z"/><path fill="#eb9b00" d="M102 219h13v6h-13zM121 266h6v5h-6z"/><path fill="#e89000" d="M115 219h6v6h-6zM96 250h6v6h-6zM515 250h6v6h-6zM133 276h7v5h-7z"/><path fill="#e48100" d="M133 219h7v6h-7zM74 245h3v5h-3zM521 261h4v5h-4z"/><path fill="#da6300" d="M146 219h6v6h-6zM140 225h6v5h-6zM508 225h7v5h-7zM490 230h6v5h-6zM121 235h6v5h-6zM152 240h6v5h-6zM158 250h7v6h-7z"/><path fill="#d85e00" d="M502 219h6v6h-6zM90 235h6v5h-6zM115 235h6v5h-6zM127 235h6v5h-6zM127 276h6v5h-6zM158 281h7v5h-7z"/><path fill="#e58500" d="M96 225h6v5h-6zM483 240h7v5h-7zM102 261h6v5h-6z"/><path fill="#de6e00" d="M152 225h6v5h-6zM115 230h6v5h-6zM127 230h6v5h-6zM483 230h7v5h-7zM146 240h6v5h-6zM146 245h6v5h-6zM152 250h6v6h-6z"/><path fill="#d24f00" d="M165 225h6v5h-6zM471 230h6v5h-6zM471 245h6v5h-6zM165 256h6v5h-6z"/><path fill="#e07500" d="M90 230h6v5h-6zM102 230h6v5h-6zM483 235h7v5h-7zM77 240h6v5h-6zM508 240h7v5h-7zM521 240h4v5h-4zM115 245h6v5h-6zM140 245h6v5h-6zM127 250h6v6h-6zM146 250h6v6h-6zM502 250h6v6h-6z"/><path fill="#dc6a00" d="M140 235h12v5h-12zM496 235h6v5h-6zM83 245h7v5h-7zM152 245h6v5h-6zM121 271h6v5h-6z"/><path fill="#3e005d" d="M396 235h6v5h-6zM396 240h6v5h-6zM377 250h6v6h-6zM396 250h6v6h-6zM371 261h12v5h-12zM402 261h6v5h-6zM365 266h12v5h-12zM283 276h19v5h-19zM265 281h6v5h-6zM296 281h6v5h-6zM365 281h6v5h-6zM365 286h6v6h-6zM352 292h6v5h-6zM365 292h6v5h-6zM327 302h6v5h-6zM408 317h7v6h-7zM277 323h6v5h-6zM290 328h6v5h-6zM377 328h19v5h-19zM415 328h6v5h-6zM271 333h6v5h-6zM308 333h7v5h-7zM383 333h19v5h-19zM408 333h7v5h-7zM265 338h6v5h-6zM265 343h6v5h-6zM302 343h6v5h-6zM290 348h6v5h-6zM302 348h6v5h-6zM277 353h6v6h-6zM315 353h6v6h-6zM427 353h6v6h-6zM246 359h12v5h-12zM277 359h13v5h-13zM308 359h7v5h-7zM390 364h6v5h-6zM433 364h7v5h-7zM240 369h6v5h-6zM402 369h13v5h-13zM421 369h12v5h-12zM227 374h6v5h-6zM390 374h6v5h-6zM408 374h13v5h-13zM202 379h6v5h-6zM215 379h6v5h-6zM371 379h6v5h-6zM396 379h6v5h-6zM208 384h13v6h-13zM208 390h7v5h-7zM383 390h7v5h-7zM396 390h6v5h-6zM221 395h6v5h-6zM215 400h6v5h-6zM252 400h6v5h-6z"/><path fill="#af1a30" d="M452 240h6v5h-6zM271 245h6v5h-6zM483 271h7v5h-7zM521 276h4v5h-4z"/><path fill="#ec9f00" d="M490 245h6v5h-6zM515 256h6v5h-6z"/><path fill="#e99600" d="M83 250h7v6h-7zM121 256h6v5h-6zM90 261h6v5h-6zM115 261h6v5h-6zM158 271h7v5h-7z"/><path fill="#e89200" d="M90 250h6v6h-6zM74 261h16v5h-16zM121 261h6v5h-6zM127 271h6v5h-6z"/><path fill="#b31f09" d="M258 250h7v6h-7zM233 266h7v5h-7zM227 286h6v6h-6z"/><path fill="#f4c500" d="M74 256h9v5h-9z"/><path fill="#3a0051" d="M377 256h19v5h-19zM383 261h7v5h-7zM371 271h6v5h-6zM296 297h12v5h-12zM358 297h13v5h-13zM321 307h37v5h-37zM340 312h6v5h-6zM277 317h6v6h-6zM290 317h6v6h-6zM308 317h7v6h-7zM358 317h7v6h-7zM227 323h6v5h-6zM283 323h13v5h-13zM308 323h7v5h-7zM321 323h19v5h-19zM371 323h6v5h-6zM308 328h13v5h-13zM265 333h6v5h-6zM315 333h12v5h-12zM377 333h6v5h-6zM258 338h7v5h-7zM315 338h18v5h-18zM258 343h7v5h-7zM308 343h13v5h-13zM408 343h7v5h-7zM233 348h7v5h-7zM308 348h7v5h-7zM246 353h12v6h-12zM283 353h13v6h-13zM402 353h6v6h-6zM315 359h6v5h-6zM433 359h7v5h-7zM402 364h13v5h-13zM315 369h6v5h-6zM233 374h7v5h-7zM402 374h6v5h-6zM221 379h6v5h-6zM346 379h19v5h-19zM233 384h7v6h-7zM365 390h12v5h-12zM227 395h6v5h-6zM265 395h18v5h-18zM346 395h12v5h-12zM227 400h6v5h-6zM240 400h6v5h-6zM283 400h13v5h-13zM327 400h13v5h-13zM346 400h6v5h-6z"/><path fill="#37004a" d="M396 256h6v5h-6zM377 266h6v5h-6zM402 266h6v5h-6zM371 276h6v5h-6zM277 281h13v5h-13zM390 281h6v5h-6zM383 286h13v6h-13zM290 292h6v5h-6zM352 297h6v5h-6zM252 302h6v5h-6zM352 302h19v5h-19zM358 307h13v5h-13zM327 312h13v5h-13zM346 312h6v5h-6zM358 312h7v5h-7zM283 317h7v6h-7zM315 317h18v6h-18zM340 317h6v6h-6zM365 317h6v6h-6zM271 323h6v5h-6zM296 323h12v5h-12zM340 323h6v5h-6zM327 328h6v5h-6zM371 328h6v5h-6zM233 338h7v5h-7zM390 338h6v5h-6zM402 338h13v5h-13zM233 343h7v5h-7zM252 348h6v5h-6zM321 348h6v5h-6zM321 353h6v6h-6zM396 353h6v6h-6zM321 359h6v5h-6zM390 359h25v5h-25zM252 364h19v5h-19zM290 364h6v5h-6zM302 364h6v5h-6zM315 364h12v5h-12zM383 364h7v5h-7zM246 369h6v5h-6zM308 369h7v5h-7zM321 369h12v5h-12zM352 369h6v5h-6zM371 369h6v5h-6zM240 374h6v5h-6zM327 374h6v5h-6zM346 374h25v5h-25zM377 374h6v5h-6zM227 379h6v5h-6zM340 379h6v5h-6zM365 379h6v5h-6zM227 384h6v6h-6zM340 384h12v6h-12zM358 384h13v6h-13zM233 390h7v5h-7zM283 390h7v5h-7zM358 390h7v5h-7zM258 395h7v5h-7zM283 395h7v5h-7zM233 400h7v5h-7zM296 400h6v5h-6zM340 400h6v5h-6z"/><path fill="#f0b300" d="M521 256h4v5h-4zM133 261h7v5h-7zM146 261h6v5h-6zM152 271h6v5h-6z"/><path fill="#e99400" d="M108 261h7v5h-7zM152 261h6v5h-6z"/><path fill="#32003d" d="M390 261h6v5h-6zM383 266h13v5h-13zM377 271h6v5h-6zM390 271h12v5h-12zM377 276h6v5h-6zM396 276h6v5h-6zM377 281h6v5h-6zM283 292h7v5h-7zM296 302h6v5h-6zM315 307h6v5h-6zM277 312h6v5h-6zM290 312h6v5h-6zM252 317h6v6h-6zM296 317h12v6h-12zM346 317h6v6h-6zM358 323h7v5h-7zM340 328h6v5h-6zM233 333h7v5h-7zM252 333h6v5h-6zM333 333h7v5h-7zM371 333h6v5h-6zM340 338h6v5h-6zM321 343h12v5h-12zM402 343h6v5h-6zM240 348h6v5h-6zM327 348h6v5h-6zM383 348h7v5h-7zM327 353h6v6h-6zM365 353h6v6h-6zM327 359h6v5h-6zM383 359h7v5h-7zM277 364h6v5h-6zM327 364h6v5h-6zM352 364h6v5h-6zM377 364h6v5h-6zM302 369h6v5h-6zM358 369h13v5h-13zM377 369h6v5h-6zM246 374h12v5h-12zM302 374h13v5h-13zM333 374h13v5h-13zM252 379h6v5h-6zM265 379h6v5h-6zM296 379h6v5h-6zM308 379h7v5h-7zM321 379h6v5h-6zM240 384h6v6h-6zM265 384h6v6h-6zM315 384h12v6h-12zM333 390h7v5h-7zM346 390h6v5h-6zM246 395h6v5h-6zM290 395h6v5h-6zM302 395h6v5h-6zM321 395h6v5h-6zM340 395h6v5h-6zM302 400h6v5h-6zM321 400h6v5h-6z"/><path fill="#2f0037" d="M396 261h6v5h-6zM383 271h7v5h-7zM383 281h7v5h-7zM396 281h6v5h-6zM277 286h6v6h-6zM290 297h6v5h-6zM246 307h6v5h-6zM302 307h6v5h-6zM233 312h7v5h-7zM252 312h13v5h-13zM271 312h6v5h-6zM283 312h7v5h-7zM296 312h6v5h-6zM352 317h6v6h-6zM258 323h7v5h-7zM346 323h6v5h-6zM233 328h7v5h-7zM258 328h7v5h-7zM346 328h6v5h-6zM365 328h6v5h-6zM246 333h6v5h-6zM340 333h6v5h-6zM240 338h6v5h-6zM240 343h6v5h-6zM390 343h12v5h-12zM390 348h12v5h-12zM377 353h19v6h-19zM365 359h6v5h-6zM283 364h7v5h-7zM333 364h7v5h-7zM346 364h6v5h-6zM358 364h7v5h-7zM371 364h6v5h-6zM252 369h6v5h-6zM333 369h7v5h-7zM265 374h6v5h-6zM290 374h6v5h-6zM246 379h6v5h-6zM290 379h6v5h-6zM246 384h12v6h-12zM271 384h44v6h-44zM265 390h6v5h-6zM290 390h6v5h-6zM321 390h12v5h-12zM327 395h6v5h-6zM315 400h6v5h-6z"/><path fill="#f4c200" d="M127 266h6v5h-6z"/><path fill="#fdf300" d="M133 266h7v5h-7z"/><path fill="#ffff00" d="M140 266h12v5h-12z"/><path fill="#260023" d="M396 266h6v5h-6zM283 302h7v5h-7zM258 307h13v5h-13zM277 307h13v5h-13zM240 317h12v6h-12zM246 328h6v5h-6zM346 338h6v5h-6zM377 343h6v5h-6zM358 348h7v5h-7zM377 348h6v5h-6zM346 359h6v5h-6zM277 374h6v5h-6zM271 379h12v5h-12zM246 390h12v5h-12zM315 390h6v5h-6z"/><path fill="#fef900" d="M140 271h12v5h-12z"/><path fill="#22001d" d="M302 271h6v5h-6zM265 302h6v5h-6zM271 307h6v5h-6zM233 317h7v6h-7zM246 323h6v5h-6zM358 338h19v5h-19zM352 343h25v5h-25zM371 348h6v5h-6zM352 353h6v6h-6zM315 395h6v5h-6z"/><path fill="#3c0057" d="M402 271h6v5h-6zM302 276h6v5h-6zM402 276h6v5h-6zM290 281h6v5h-6zM371 281h6v5h-6zM258 286h7v6h-7zM290 286h6v6h-6zM377 286h6v6h-6zM396 286h6v6h-6zM296 292h6v5h-6zM252 297h6v5h-6zM308 297h7v5h-7zM346 297h6v5h-6zM308 302h13v5h-13zM346 302h6v5h-6zM240 307h6v5h-6zM365 312h6v5h-6zM227 317h6v6h-6zM271 328h6v5h-6zM296 328h12v5h-12zM321 328h6v5h-6zM408 328h7v5h-7zM315 348h6v5h-6zM408 348h7v5h-7zM233 353h13v6h-13zM408 353h13v6h-13zM258 359h7v5h-7zM271 359h6v5h-6zM421 359h6v5h-6zM246 364h6v5h-6zM396 364h6v5h-6zM415 364h18v5h-18zM233 369h7v5h-7zM390 369h12v5h-12zM383 374h7v5h-7zM208 379h7v5h-7zM383 379h7v5h-7zM221 384h6v6h-6zM352 384h6v6h-6zM371 384h19v6h-19zM227 390h6v5h-6zM377 390h6v5h-6zM221 400h6v5h-6zM246 400h6v5h-6zM271 400h12v5h-12z"/><path fill="#f1b500" d="M146 276h6v5h-6z"/><path fill="#29002a" d="M383 276h7v5h-7zM258 297h7v5h-7zM258 302h7v5h-7zM290 302h6v5h-6zM290 307h12v5h-12zM246 312h6v5h-6zM233 323h13v5h-13zM252 323h6v5h-6zM352 328h13v5h-13zM352 333h19v5h-19zM346 343h6v5h-6zM340 348h6v5h-6zM365 348h6v5h-6zM340 353h12v6h-12zM333 359h7v5h-7zM352 359h6v5h-6zM365 364h6v5h-6zM277 369h6v5h-6zM258 374h7v5h-7zM271 374h6v5h-6zM240 390h6v5h-6zM333 395h7v5h-7z"/><path fill="#350044" d="M390 276h6v5h-6zM271 281h6v5h-6zM283 286h7v6h-7zM258 292h7v5h-7zM302 302h6v5h-6zM302 312h25v5h-25zM352 312h6v5h-6zM258 317h19v6h-19zM333 317h7v6h-7zM265 323h6v5h-6zM315 323h6v5h-6zM365 323h6v5h-6zM265 328h6v5h-6zM333 328h7v5h-7zM240 333h6v5h-6zM258 333h7v5h-7zM327 333h6v5h-6zM252 338h6v5h-6zM333 338h7v5h-7zM383 338h7v5h-7zM396 338h6v5h-6zM246 343h12v5h-12zM246 348h6v5h-6zM402 348h6v5h-6zM415 359h6v5h-6zM427 359h6v5h-6zM271 364h6v5h-6zM308 364h7v5h-7zM296 369h6v5h-6zM346 369h6v5h-6zM383 369h7v5h-7zM296 374h6v5h-6zM315 374h12v5h-12zM371 374h6v5h-6zM396 374h6v5h-6zM233 379h13v5h-13zM302 379h6v5h-6zM315 379h6v5h-6zM327 379h13v5h-13zM333 384h7v6h-7zM277 390h6v5h-6zM352 390h6v5h-6zM233 395h13v5h-13zM252 395h6v5h-6zM296 395h6v5h-6z"/><path fill="#0a0002" d="M265 286h6v6h-6zM271 297h12v5h-12z"/><path fill="#1e0016" d="M271 286h6v6h-6zM265 292h6v5h-6zM265 297h6v5h-6zM277 302h6v5h-6zM352 338h6v5h-6zM352 348h6v5h-6z"/><path fill="#130009" d="M271 292h6v5h-6z"/><path fill="#190010" d="M277 292h6v5h-6zM271 302h6v5h-6z"/><path fill="#2c0030" d="M283 297h7v5h-7zM252 307h6v5h-6zM308 307h7v5h-7zM240 312h6v5h-6zM265 312h6v5h-6zM352 323h6v5h-6zM240 328h6v5h-6zM252 328h6v5h-6zM346 333h6v5h-6zM246 338h6v5h-6zM377 338h6v5h-6zM333 343h13v5h-13zM383 343h7v5h-7zM333 348h7v5h-7zM346 348h6v5h-6zM333 353h7v6h-7zM358 353h7v6h-7zM371 353h6v6h-6zM340 359h6v5h-6zM358 359h7v5h-7zM371 359h12v5h-12zM340 364h6v5h-6zM258 369h19v5h-19zM283 369h13v5h-13zM340 369h6v5h-6zM283 374h7v5h-7zM258 379h7v5h-7zM283 379h7v5h-7zM258 384h7v6h-7zM327 384h6v6h-6zM258 390h7v5h-7zM271 390h6v5h-6zM296 390h19v5h-19zM340 390h6v5h-6zM308 395h7v5h-7zM308 400h7v5h-7z"/></g>
<g fill="none" stroke="#40e0d0" stroke-width="1" shape-rendering="crispEdges" clip-path="url(#pc)"><polyline points="89.5,102.9 92.0,97.1 97.0,93.6 103.9,90.9 112.0,92.6 123.2,94.4 130.8,95.7 139.5,93.6 143.2,94.6 149.5,94.6 155.8,97.7 162.0,97.7 168.2,97.7 174.5,97.7 179.5,97.7 182.0,90.5 184.5,95.7 189.5,97.7 193.2,94.6 197.0,95.7 198.2,99.8 192.0,101.8 190.8,106.0 184.5,109.1 181.4,116.3 183.9,120.4 189.5,121.4 196.4,124.5 197.0,128.7 199.5,132.4 201.4,129.7 200.1,124.5 203.2,121.4 202.0,116.9 202.6,113.2 202.0,109.5 207.6,110.1 212.0,112.2 212.6,116.7 217.6,114.2 218.9,113.6 222.0,119.4 224.5,123.5 227.6,126.6 229.5,130.7 225.8,133.8 218.2,134.4 215.8,136.3 211.4,141.0 215.8,137.3 218.2,136.9 218.9,141.0 223.2,143.5 219.5,146.2 217.0,148.2 215.8,145.2 212.0,148.2 211.4,151.3 207.0,154.4 205.1,159.6 204.5,165.4 201.4,168.3 198.2,173.0 199.5,182.3 198.9,186.0 197.0,183.3 196.0,178.2 193.9,176.1 189.5,175.5 187.0,177.7 182.0,177.1 178.2,180.2 177.6,186.4 177.2,192.0 179.5,198.8 181.4,200.4 185.1,199.8 186.4,194.7 190.8,193.6 189.8,200.8 188.9,205.0 192.0,205.4 195.4,207.0 194.9,215.3 197.0,219.4 200.1,218.4 202.6,220.4"/><polyline points="202.6,222.5 199.5,222.9 195.8,220.8 192.4,217.3 190.1,211.2 185.8,209.1 182.0,205.0 178.2,205.4 172.6,201.9 167.6,196.7 167.6,191.6 163.2,185.4 158.9,178.2 157.6,173.4 156.0,172.6 158.9,181.2 161.4,187.8 162.6,190.5 159.5,187.0 156.4,180.6 154.8,176.1 153.2,170.9 148.9,166.8 147.0,162.1 145.8,158.6 144.1,154.6 144.5,149.3 144.5,142.7 143.6,138.1 145.8,136.9 143.2,134.8 139.5,130.7 136.4,125.6 133.2,121.4 130.1,117.3 127.0,115.2 123.2,114.2 118.2,113.2 114.5,113.2 110.1,115.7 107.0,118.3 102.0,121.4 97.0,124.5 93.2,125.6 99.5,120.4 102.6,116.9 97.0,116.3 93.2,112.2 92.0,110.1 93.9,108.0 98.2,106.0 95.8,104.9 92.0,104.9 89.5,102.9"/><polyline points="208.2,76.1 218.2,73.0 224.5,69.3 237.0,68.2 249.5,66.0 262.0,65.8 272.0,68.8 277.0,73.0 274.5,79.2 275.8,83.3 272.0,88.4 268.2,92.6 272.0,93.6 267.0,96.7 259.5,97.7 253.2,102.3 249.5,103.9 245.8,114.2 239.5,112.2 235.8,106.0 232.6,99.8 232.0,93.6 229.5,87.4 225.8,81.2 214.5,81.2 210.8,78.1 208.2,76.1"/><polyline points="199.5,86.4 204.5,87.4 212.0,91.5 215.8,95.7 222.0,99.8 219.5,103.9 218.2,110.1 212.0,109.1 205.8,104.9 202.0,103.9 208.2,98.8 202.0,93.6 193.2,93.6 188.2,89.5 193.2,86.4 199.5,86.4"/><polyline points="187.0,80.2 193.2,79.2 202.0,80.2 205.8,76.1 212.0,73.0 222.0,68.8 218.2,66.8 205.8,66.8 193.2,68.8 184.5,70.9 189.5,75.0 187.0,80.2"/><polyline points="153.2,95.7 159.5,96.7 168.2,95.7 173.2,93.6 168.2,88.4 162.0,87.4 153.2,88.4 150.8,91.5 153.2,95.7"/><polyline points="143.2,89.5 147.0,91.5 150.8,88.4 154.5,86.4 149.5,84.7 144.5,84.7 143.2,89.5"/><polyline points="179.5,83.3 184.5,84.1 193.2,84.3 199.5,83.3 197.0,81.2 187.0,80.6 179.5,83.3"/><polyline points="154.5,83.3 162.0,84.3 167.0,83.3 167.0,81.2 162.0,80.6 154.5,80.8 154.5,83.3"/><polyline points="192.0,102.9 194.5,106.0 198.2,107.0 198.9,104.9 194.5,101.8 192.0,102.9"/><polyline points="172.0,89.5 178.2,90.5 180.8,88.4 182.0,85.3 178.2,85.3 172.0,86.4 172.0,89.5"/><polyline points="174.5,77.1 180.8,77.5 184.5,76.1 190.8,76.7 192.0,74.0 184.5,71.9 179.5,74.0 174.5,77.1"/><polyline points="225.8,139.6 229.5,141.4 233.2,141.6 233.6,139.0 230.1,135.9 229.5,131.8 227.6,134.8 225.8,139.6"/><polyline points="193.2,192.6 197.0,190.5 202.0,192.0 205.8,195.7 206.8,196.3 202.6,196.9 202.0,194.7 198.2,192.6 194.5,193.0 193.2,192.6"/><polyline points="206.5,200.2 209.5,200.6 213.9,200.2 212.0,197.1 208.2,196.9 206.5,200.2"/><polyline points="201.6,200.2 204.1,200.8 203.2,199.8 201.6,200.2"/><polyline points="202.6,220.4 205.1,215.7 209.5,213.2 210.1,216.3 212.0,213.2 217.0,216.3 222.0,215.9 224.5,220.4 228.2,225.6 234.5,227.7 237.0,234.9 237.0,238.0 239.5,240.0 244.5,243.1 249.5,244.2 253.2,248.3 255.8,252.4 255.8,256.5 253.2,261.7 250.8,264.8 250.8,274.1 248.9,281.3 247.0,285.4 243.2,287.1 238.9,291.6 238.6,296.8 235.8,301.9 232.6,308.1 229.5,310.2 226.4,308.1 228.2,313.2 227.4,316.3 222.0,318.4 221.4,322.5 218.2,322.5 220.1,326.0 217.6,330.8 215.1,333.9 217.2,335.9 214.5,341.1 213.2,345.8 214.1,347.3 217.6,351.0 213.9,352.4 209.5,349.3 206.4,345.2 205.1,338.0 206.4,332.8 208.2,324.6 207.4,318.4 208.2,313.2 210.1,306.0 210.1,299.8 211.4,291.6 211.8,283.3 211.6,275.7 209.5,273.0 204.5,266.8 203.0,262.7 200.8,254.5 198.2,250.3 197.9,246.8 199.5,244.2 198.5,240.0 199.5,236.9 201.0,234.9 202.6,229.7 202.6,223.5 202.6,220.4"/><polyline points="223.2,343.6 227.0,343.8 225.8,345.8 223.2,345.2 223.2,343.6"/><polyline points="292.1,164.1 297.0,165.4 300.8,162.7 305.8,162.1 312.0,161.2 313.2,164.8 312.2,167.8 313.9,169.5 318.2,171.3 323.2,175.5 324.5,171.6 328.2,170.7 330.8,172.8 335.8,174.2 339.5,173.6 342.0,173.4 340.2,176.3 342.0,182.3 343.9,188.5 345.8,194.7 346.1,199.2 348.2,206.0 351.4,210.1 353.6,212.2 353.2,214.2 355.8,216.3 359.5,214.9 363.5,213.6 363.0,219.4 359.5,227.7 357.0,232.8 353.2,238.0 350.8,242.1 348.9,247.2 348.0,251.4 348.9,255.5 350.1,259.6 350.1,267.9 347.0,273.4 343.0,278.8 343.9,283.3 343.6,287.5 340.5,291.2 340.1,296.8 337.6,301.9 334.5,306.0 331.4,308.1 327.0,308.5 324.5,309.7 322.5,308.1 322.0,304.0 320.1,296.8 318.2,292.6 317.6,284.4 314.5,275.1 314.2,271.0 316.4,263.8 316.1,256.5 314.8,250.3 313.2,245.8 310.8,239.4 311.4,235.9 311.6,230.8 310.1,228.7 307.0,229.1 304.9,225.0 301.4,225.4 297.0,228.1 293.9,227.2 290.1,228.9 288.0,226.6 285.1,223.9 282.9,220.4 281.0,215.7 278.6,212.6 277.6,207.7 278.9,203.9 279.2,198.8 278.2,194.7 279.5,189.1 281.4,184.3 283.2,180.8 287.0,177.1 287.4,173.0 290.8,168.3 292.1,164.1"/><polyline points="361.1,262.7 362.6,269.9 361.4,274.1 358.6,289.1 356.0,290.6 354.1,286.4 354.9,279.2 354.5,273.0 357.6,270.6 359.5,265.8 361.1,262.7"/><polyline points="292.5,163.7 290.8,161.7 288.2,161.7 287.6,158.2 288.5,153.4 287.9,149.3 289.5,147.8 295.1,148.2 297.6,148.5 298.0,143.1 296.0,140.0 293.6,138.1 297.6,137.5 297.2,135.5 299.8,135.9 301.6,133.0 303.9,132.0 305.4,128.7 308.2,127.6 310.5,126.6 309.9,123.5 309.8,120.4 312.6,119.0 312.6,122.5 312.0,125.6 313.2,126.6 317.0,126.6 322.6,125.1 324.2,125.8 325.8,123.9 326.0,120.4 327.0,119.2 329.5,120.0 330.0,117.7 328.9,115.9 334.5,115.2 337.0,114.2 334.5,113.2 330.8,113.8 327.6,114.2 326.1,112.2 326.4,108.0 330.8,103.9 329.5,102.3 327.0,102.9 325.8,105.4 321.4,109.1 321.1,112.2 322.6,114.2 320.4,118.3 320.0,121.4 317.4,123.5 315.5,123.5 315.4,122.1 313.5,116.3 312.6,115.9 309.5,118.1 306.4,116.3 305.8,112.2 306.1,109.5 310.1,106.8 313.2,104.3 315.8,100.8 318.2,97.1 322.0,94.6 326.4,93.6 331.6,91.5 335.1,91.9 338.2,93.0 340.8,94.8 344.5,95.5 350.8,99.8 349.5,101.4 343.2,100.8 340.8,100.4 343.0,103.9 345.8,106.4 349.5,104.9 350.1,102.3 354.5,101.4 354.5,97.1 357.0,97.7 358.2,100.0 365.8,97.3 367.6,97.1 373.2,96.7 375.1,94.0 379.5,95.0 383.0,95.7 383.2,91.5 385.1,88.4 390.1,87.8 390.1,91.5 391.4,96.7 392.6,90.5 392.0,88.4 397.0,89.5 400.1,86.4 407.0,85.3 408.2,83.3 417.0,81.2 424.5,80.2 429.5,77.7 432.0,79.2 439.5,80.2 441.4,85.3 437.0,85.8 447.0,87.0 454.5,86.4 458.2,88.4 462.0,91.5 465.8,90.5 470.8,90.5 474.5,88.4 482.0,88.9 487.0,90.5 494.5,91.5 499.5,94.2 502.0,94.4 509.5,93.6 513.2,95.7 519.5,94.0 524.5,95.7"/><polyline points="74.5,96.1 80.8,98.8 87.0,101.8 83.9,104.9 79.5,104.3 76.4,102.5 74.5,103.5"/><polyline points="524.5,103.5 522.0,104.9 521.4,109.1 517.0,110.5 512.6,114.2 508.2,113.6 504.5,114.6 503.2,118.3 502.0,122.5 502.6,124.9 499.5,128.7 497.6,130.7 495.4,132.8 494.5,126.6 494.1,120.4 495.8,118.3 498.9,115.2 500.8,113.2 503.2,111.1 499.5,110.5 495.1,111.1 493.2,115.7 489.5,116.3 485.8,115.2 478.2,115.7 474.5,119.4 472.0,122.5 468.9,125.1 471.4,127.2 475.8,128.2 476.4,130.7 475.1,134.8 474.9,139.0 472.6,142.1 469.5,146.2 465.8,149.7 463.2,150.3 461.8,152.4 461.4,154.4 458.9,156.1 460.1,158.6 461.4,162.7 460.8,165.4 457.6,166.8 457.4,162.7 457.9,160.2 455.8,158.6 456.0,156.5 454.9,155.5 452.0,154.4 451.4,157.5 450.8,153.8 448.2,157.1 446.6,157.9 448.2,160.6 452.6,160.8 450.1,163.3 448.6,165.8 450.5,169.9 451.8,173.0 451.8,176.1 451.4,179.2 449.5,183.3 447.6,187.0 445.1,190.1 442.0,191.6 438.2,193.6 437.4,195.7 436.4,193.6 434.5,193.4 432.9,195.7 431.8,198.8 433.9,203.9 436.0,210.1 436.0,214.2 433.2,216.5 430.8,219.8 430.5,216.9 428.2,215.3 427.6,213.2 425.8,211.6 425.1,210.1 424.5,213.2 423.6,216.3 424.9,220.4 425.8,223.9 427.4,225.2 428.7,228.7 429.8,235.1 428.6,234.7 426.1,232.2 425.0,227.7 424.5,224.6 422.4,221.5 422.6,216.3 422.9,212.2 421.8,206.0 420.8,202.9 418.9,205.4 417.4,205.0 417.6,200.8 416.4,197.1 414.5,193.6 413.9,191.2 410.8,192.6 408.2,194.2 407.6,196.7 405.8,197.8 402.6,203.3 399.9,205.6 399.5,210.1 399.2,216.7 398.2,218.8 397.0,220.4 396.4,221.5 394.9,217.8 393.2,212.2 392.0,207.0 390.8,201.9 390.5,197.8 390.4,194.7 389.5,194.7 387.6,195.1 385.8,192.0 387.0,190.5 385.1,189.5 383.2,186.8 382.6,185.8 377.0,186.0 373.9,185.6 370.8,185.0 370.1,182.3 367.6,183.1 365.1,181.2 363.2,179.2 362.0,175.7 360.5,175.5 359.5,176.5 360.1,179.2 362.0,182.9 362.2,185.4 363.6,184.3 363.9,187.4 367.0,188.1 369.8,183.9 370.1,187.4 372.9,189.3 374.2,191.6 372.6,195.7 371.6,198.8 369.5,201.3 368.2,202.9 364.9,205.0 360.8,208.7 355.8,211.6 353.9,211.8 353.2,209.1 352.9,204.3 350.5,197.8 348.5,193.6 347.6,188.9 346.0,185.8 343.5,180.2 343.2,177.1 342.6,180.2 342.2,180.8 340.8,178.6 340.2,176.3"/><polyline points="342.4,173.4 343.2,169.9 344.5,164.8 344.8,162.3 342.0,163.1 339.5,163.3 337.6,162.7 335.1,162.3 333.6,160.6 332.6,157.5 332.2,155.5 335.8,153.4 338.9,153.0 343.2,151.3 347.0,153.4 351.4,152.4 351.4,150.3 348.2,147.2 346.4,145.2 345.1,144.5 343.2,145.2 341.4,146.2 340.4,143.5 338.2,141.9 336.6,144.7 335.4,147.2 334.2,150.3 334.8,152.4 335.8,153.4"/><polyline points="345.1,144.5 347.0,141.4 348.2,140.6 346.4,142.7 343.2,143.1 345.1,144.5"/><polyline points="332.2,154.4 329.5,153.8 328.2,155.5 329.5,159.6 328.2,162.7 326.4,161.7 325.8,157.5 323.9,154.4 323.9,151.8 320.8,149.3 318.2,146.2 316.8,143.9 314.9,144.5 315.1,147.2 317.0,150.3 319.5,151.8 322.6,155.1 320.8,154.4 320.1,156.5 320.8,157.5 319.5,159.6 319.1,155.5 317.6,154.0 315.1,152.4 312.6,149.3 310.5,146.4 308.9,147.6 305.8,148.7 303.5,148.7 303.5,151.3 300.5,153.4 299.1,156.5 299.5,158.2 298.5,160.2 296.8,162.1 293.9,162.3 292.5,163.7"/><polyline points="315.1,159.6 318.9,159.2 318.4,162.3 315.1,160.4 315.1,159.6"/><polyline points="309.8,153.4 311.6,153.4 311.5,157.1 310.1,157.5 309.8,153.4"/><polyline points="310.2,150.1 311.4,149.3 311.2,152.4 310.2,150.1"/><polyline points="329.0,164.8 332.2,165.4 330.5,166.0 329.0,164.8"/><polyline points="339.9,165.8 342.6,164.5 341.8,166.6 339.9,165.8"/><polyline points="292.6,134.6 295.1,134.2 299.5,133.2 301.2,132.4 301.6,129.3 299.9,128.7 299.2,126.2 297.6,124.5 297.0,122.5 297.0,119.4 295.1,119.0 295.8,117.1 293.2,117.1 292.0,119.4 292.6,122.5 293.5,124.9 295.8,126.6 295.5,128.0 293.9,128.2 294.2,130.1 293.0,131.1 295.5,132.0 294.1,132.8 292.6,134.6"/><polyline points="292.0,130.3 292.0,126.6 291.6,124.1 289.1,124.5 287.0,126.2 287.6,128.7 286.6,130.7 287.6,131.8 292.0,130.3"/><polyline points="269.5,102.9 272.0,101.0 277.0,101.4 281.4,101.8 282.6,103.9 280.8,105.4 276.4,107.2 271.4,106.4 272.0,104.9 269.5,102.9"/><polyline points="313.2,74.0 319.5,73.0 327.0,72.6 333.2,73.0 329.5,75.0 325.8,76.1 322.0,79.2 318.2,79.2 317.0,77.1 313.2,74.0"/><polyline points="363.9,90.5 366.4,87.4 369.5,83.3 374.5,80.8 384.5,79.2 384.5,80.6 377.0,82.7 372.0,86.4 368.9,89.5 370.8,92.1 366.4,91.9 363.9,90.5"/><polyline points="418.2,75.0 424.5,74.0 430.8,76.1 424.5,77.1 418.2,75.0"/><polyline points="472.0,82.2 478.2,83.3 482.0,82.2 477.0,81.2 472.0,82.2"/><polyline points="74.5,91.5 77.0,90.5 77.0,91.5 74.5,91.9"/><polyline points="524.5,91.5 522.6,90.9 524.5,91.9"/><polyline points="360.8,142.1 363.2,141.0 365.8,141.4 365.8,144.7 363.2,146.2 362.4,146.2 363.2,148.2 365.5,151.3 365.5,153.4 367.0,153.8 365.8,156.5 366.8,161.7 363.2,162.3 360.8,160.6 360.8,157.5 361.4,154.4 358.9,149.3 358.0,146.2 360.8,142.1"/><polyline points="372.6,143.1 375.8,142.1 376.4,147.2 373.2,148.2 372.6,143.1"/><polyline points="476.4,153.4 477.0,156.5 475.8,159.6 475.5,163.7 474.5,165.4 473.0,166.4 470.8,166.6 469.2,168.9 468.2,166.6 465.1,167.4 463.2,167.8 463.2,166.8 465.8,164.8 469.5,164.1 470.8,161.7 473.0,160.0 474.5,155.5 476.4,153.4"/><polyline points="474.8,152.4 476.4,149.3 476.8,144.3 480.8,147.2 481.4,148.9 478.6,151.3 475.8,150.3 474.8,152.4"/><polyline points="462.0,168.9 463.9,168.5 464.5,170.3 463.6,173.4 462.4,173.6 461.6,169.9 462.0,168.9"/><polyline points="465.1,167.8 467.6,167.4 467.2,169.3 465.8,170.3 465.1,167.8"/><polyline points="477.0,126.0 478.2,128.7 478.6,134.8 480.1,136.9 478.2,141.4 477.0,143.1 477.0,139.0 477.0,132.8 476.8,127.6 477.0,126.0"/><polyline points="450.8,186.0 451.9,186.4 450.6,192.6 449.8,190.5 450.8,186.0"/><polyline points="435.4,198.2 437.6,196.7 438.2,197.5 436.4,200.4 435.4,198.2"/><polyline points="399.5,217.8 401.1,220.4 401.8,223.5 400.3,225.6 399.2,223.5 399.5,217.8"/><polyline points="450.1,199.8 452.2,200.0 452.0,204.3 451.4,208.7 454.2,209.5 454.5,211.8 452.6,210.1 450.4,209.5 449.5,207.0 449.9,203.9 450.1,199.8"/><polyline points="452.0,223.5 453.9,220.4 456.4,218.0 457.6,222.5 456.4,226.0 454.5,224.6 452.0,223.5"/><polyline points="446.1,220.6 448.9,214.7 447.6,218.4 446.1,220.6"/><polyline points="453.2,217.3 454.5,214.9 456.4,215.3 455.8,217.3 454.5,216.3 453.2,217.3"/><polyline points="441.4,283.3 442.0,291.6 443.2,300.9 443.9,307.1 443.2,308.7 447.0,310.2 449.5,308.1 453.9,308.1 457.0,304.6 460.8,303.4 463.9,302.9 467.0,305.4 468.9,309.7 469.5,308.1 471.6,305.6 471.4,310.2 472.6,310.2 473.9,312.2 475.1,316.3 478.9,318.0 480.8,316.3 482.4,318.4 484.5,315.9 487.0,314.7 488.0,310.2 488.9,306.0 490.8,299.8 491.4,295.7 490.8,290.6 488.2,286.4 486.4,283.3 484.5,279.2 482.4,277.2 481.4,268.9 480.8,268.5 478.9,266.8 477.6,260.2 476.4,264.8 476.6,268.9 475.5,274.1 473.6,274.1 471.8,271.0 468.9,268.9 469.5,265.8 470.5,263.1 468.2,262.7 465.1,261.7 463.2,263.3 462.0,265.8 461.4,268.9 459.5,268.9 457.6,266.8 455.8,269.9 454.5,273.0 452.4,273.6 452.2,276.1 450.8,278.6 448.2,279.2 445.4,280.7 442.6,282.9 441.4,283.3"/><polyline points="480.4,321.9 482.6,322.5 484.9,322.3 484.5,326.7 482.6,327.9 481.1,325.6 480.4,321.9"/><polyline points="515.4,308.9 517.4,310.8 518.9,313.7 519.5,315.5 522.0,315.5 522.4,317.4 520.8,319.4 520.5,321.5 518.6,323.8 517.9,323.2 518.2,320.5 516.8,319.0 517.9,316.3 517.6,313.2 515.4,308.9"/><polyline points="515.4,321.5 517.4,324.0 515.8,326.7 515.1,328.3 513.2,329.8 513.0,332.6 511.4,334.1 509.5,333.7 507.6,332.4 509.9,328.7 512.6,326.7 513.9,324.2 515.4,321.5"/><polyline points="504.5,279.2 506.4,280.2 508.2,284.0 507.0,283.3 504.5,279.2"/><polyline points="521.1,274.1 522.6,274.1 522.4,275.5 521.1,275.1 521.1,274.1"/><polyline points="104.6,196.7 105.6,197.8"/><polyline points="103.4,194.7 104.3,195.3"/><polyline points="101.1,192.8 101.9,193.2"/><polyline points="185.1,238.6 185.8,240.0 185.4,239.6"/><polyline points="77.0,399.3 96.5,399.3 102.8,398.0"/><polyline points="96.5,399.3 99.0,401.7"/><polyline points="77.0,412.5 86.5,412.5 87.8,413.5 106.5,413.5 115.2,414.5 111.5,410.0 109.0,405.0 107.8,401.1 110.2,397.4 120.2,394.5 131.5,391.6 141.5,390.0 156.5,390.6 161.5,392.4 171.5,390.4 174.0,388.5 184.0,388.9 196.5,389.2 206.5,386.7 211.5,383.8 216.5,377.4 220.2,372.0 225.2,369.3 226.5,371.2 224.0,378.6 222.8,385.0 224.0,392.0 234.0,394.9 244.5,397.8 257.8,398.0 264.0,394.9 274.0,390.0 286.5,385.0 297.8,380.7 304.0,383.0 324.0,383.0 331.5,383.8 339.0,380.7 346.5,381.9 356.5,376.8 364.0,374.9 374.0,376.8 376.0,377.0 384.8,378.6 386.0,382.3 391.0,381.9 398.5,378.6 404.8,375.5 421.0,374.5 438.5,373.7 446.0,376.2 456.0,374.1 468.5,374.1 476.0,376.2 491.0,379.9 502.2,382.3 511.0,385.6 507.2,391.2 502.2,399.5 509.8,397.4 516.0,397.4 523.5,399.3"/><polyline points="502.2,399.5 504.8,406.3 516.0,410.0 517.2,410.8"/><polyline points="216.5,377.4 217.8,381.1 222.8,385.0"/><polyline points="206.5,386.7 209.5,382.3 212.6,383.4 211.5,386.5 206.5,386.7"/><polyline points="196.5,397.4 204.0,396.2 224.0,392.4"/><polyline points="196.5,397.4 204.0,401.9 214.0,404.4 229.0,406.7 244.0,405.7 260.2,403.0 257.8,398.6 244.0,398.6 229.0,401.1 219.0,403.6 204.0,401.9"/><polyline points="224.0,392.4 239.0,397.4 244.0,399.9"/><polyline points="260.2,399.3 274.0,391.6 286.5,386.5 297.8,382.3"/><polyline points="384.8,378.6 387.6,380.3 386.0,382.3"/><polyline points="417.8,226.2 422.0,235.9 427.8,244.6 431.5,244.6 429.5,240.0 424.5,230.8 420.1,226.6 417.8,226.2"/><polyline points="445.2,225.0 439.5,232.8 435.3,241.3 437.0,243.7 442.0,245.0 445.1,240.0 446.5,234.9 446.8,229.7 445.2,225.0"/><polyline points="431.5,251.2 434.5,253.2 441.5,254.1 438.2,252.0 431.5,251.2"/><polyline points="462.8,241.3 469.5,241.9 476.5,243.7 482.0,251.4 486.5,258.6 480.8,255.7 474.0,252.4 468.2,247.0 462.8,241.3"/><polyline points="454.0,220.2 455.2,225.2 456.2,220.2"/><polyline points="77.5,131.8 78.5,131.3"/><polyline points="82.0,130.9 83.2,130.5"/><polyline points="88.9,128.2 91.4,127.0"/></g>
<g shape-rendering="crispEdges" fill="#000">
<rect x="74" y="57" width="451" height="1"/><rect x="74" y="419" width="451" height="1"/><rect x="74" y="57" width="1" height="363"/><rect x="524" y="57" width="1" height="363"/>
</g>
<g shape-rendering="crispEdges"><rect x="536" y="58" width="21" height="1" fill="#fffd00"/><rect x="536" y="59" width="21" height="1" fill="#fefb00"/><rect x="536" y="60" width="21" height="1" fill="#fef900"/><rect x="536" y="61" width="21" height="1" fill="#fef700"/><rect x="536" y="62" width="21" height="1" fill="#fdf500"/><rect x="536" y="63" width="21" height="1" fill="#fdf300"/><rect x="536" y="64" width="21" height="1" fill="#fdf000"/><rect x="536" y="65" width="21" height="1" fill="#fcee00"/><rect x="536" y="66" width="21" height="1" fill="#fcec00"/><rect x="536" y="67" width="21" height="1" fill="#fbea00"/><rect x="536" y="68" width="21" height="1" fill="#fbe800"/><rect x="536" y="69" width="21" height="1" fill="#fbe600"/><rect x="536" y="70" width="21" height="1" fill="#fae500"/><rect x="536" y="71" width="21" height="1" fill="#fae300"/><rect x="536" y="72" width="21" height="1" fill="#fae100"/><rect x="536" y="73" width="21" height="1" fill="#f9df00"/><rect x="536" y="74" width="21" height="1" fill="#f9dd00"/><rect x="536" y="75" width="21" height="1" fill="#f9db00"/><rect x="536" y="76" width="21" height="1" fill="#f8d900"/><rect x="536" y="77" width="21" height="1" fill="#f8d700"/><rect x="536" y="78" width="21" height="1" fill="#f7d500"/><rect x="536" y="79" width="21" height="1" fill="#f7d300"/><rect x="536" y="80" width="21" height="1" fill="#f7d100"/><rect x="536" y="81" width="21" height="1" fill="#f6d000"/><rect x="536" y="82" width="21" height="1" fill="#f6ce00"/><rect x="536" y="83" width="21" height="1" fill="#f6cc00"/><rect x="536" y="84" width="21" height="1" fill="#f5ca00"/><rect x="536" y="85" width="21" height="1" fill="#f5c800"/><rect x="536" y="86" width="21" height="1" fill="#f5c600"/><rect x="536" y="87" width="21" height="1" fill="#f4c500"/><rect x="536" y="88" width="21" height="1" fill="#f4c300"/><rect x="536" y="89" width="21" height="1" fill="#f3c100"/><rect x="536" y="90" width="21" height="1" fill="#f3bf00"/><rect x="536" y="91" width="21" height="1" fill="#f3be00"/><rect x="536" y="92" width="21" height="1" fill="#f2bc00"/><rect x="536" y="93" width="21" height="1" fill="#f2ba00"/><rect x="536" y="94" width="21" height="1" fill="#f2b900"/><rect x="536" y="95" width="21" height="1" fill="#f1b700"/><rect x="536" y="96" width="21" height="1" fill="#f1b500"/><rect x="536" y="97" width="21" height="1" fill="#f0b300"/><rect x="536" y="98" width="21" height="1" fill="#f0b200"/><rect x="536" y="99" width="21" height="1" fill="#f0b000"/><rect x="536" y="100" width="21" height="1" fill="#efae00"/><rect x="536" y="101" width="21" height="1" fill="#efad00"/><rect x="536" y="102" width="21" height="1" fill="#efab00"/><rect x="536" y="103" width="21" height="1" fill="#eeaa00"/><rect x="536" y="104" width="21" height="1" fill="#eea800"/><rect x="536" y="105" width="21" height="1" fill="#eda600"/><rect x="536" y="106" width="21" height="1" fill="#eda500"/><rect x="536" y="107" width="21" height="1" fill="#eda300"/><rect x="536" y="108" width="21" height="1" fill="#eca200"/><rect x="536" y="109" width="21" height="1" fill="#eca000"/><rect x="536" y="110" width="21" height="1" fill="#ec9f00"/><rect x="536" y="111" width="21" height="1" fill="#eb9d00"/><rect x="536" y="112" width="21" height="1" fill="#eb9c00"/><rect x="536" y="113" width="21" height="1" fill="#ea9a00"/><rect x="536" y="114" width="21" height="1" fill="#ea9900"/><rect x="536" y="115" width="21" height="1" fill="#ea9700"/><rect x="536" y="116" width="21" height="1" fill="#e99600"/><rect x="536" y="117" width="21" height="1" fill="#e99400"/><rect x="536" y="118" width="21" height="1" fill="#e99300"/><rect x="536" y="119" width="21" height="1" fill="#e89100"/><rect x="536" y="120" width="21" height="1" fill="#e89000"/><rect x="536" y="121" width="21" height="1" fill="#e78e00"/><rect x="536" y="122" width="21" height="1" fill="#e78d00"/><rect x="536" y="123" width="21" height="1" fill="#e78b00"/><rect x="536" y="124" width="21" height="1" fill="#e68a00"/><rect x="536" y="125" width="21" height="1" fill="#e68900"/><rect x="536" y="126" width="21" height="1" fill="#e58700"/><rect x="536" y="127" width="21" height="1" fill="#e58600"/><rect x="536" y="128" width="21" height="1" fill="#e58400"/><rect x="536" y="129" width="21" height="1" fill="#e48300"/><rect x="536" y="130" width="21" height="1" fill="#e48200"/><rect x="536" y="131" width="21" height="1" fill="#e38000"/><rect x="536" y="132" width="21" height="1" fill="#e37f00"/><rect x="536" y="133" width="21" height="1" fill="#e37e00"/><rect x="536" y="134" width="21" height="1" fill="#e27c00"/><rect x="536" y="135" width="21" height="1" fill="#e27b00"/><rect x="536" y="136" width="21" height="1" fill="#e17a00"/><rect x="536" y="137" width="21" height="1" fill="#e17900"/><rect x="536" y="138" width="21" height="1" fill="#e17700"/><rect x="536" y="139" width="21" height="1" fill="#e07600"/><rect x="536" y="140" width="21" height="1" fill="#e07500"/><rect x="536" y="141" width="21" height="1" fill="#df7300"/><rect x="536" y="142" width="21" height="1" fill="#df7200"/><rect x="536" y="143" width="21" height="1" fill="#df7100"/><rect x="536" y="144" width="21" height="1" fill="#de7000"/><rect x="536" y="145" width="21" height="1" fill="#de6f00"/><rect x="536" y="146" width="21" height="1" fill="#dd6d00"/><rect x="536" y="147" width="21" height="1" fill="#dd6c00"/><rect x="536" y="148" width="21" height="1" fill="#dd6b00"/><rect x="536" y="149" width="21" height="1" fill="#dc6a00"/><rect x="536" y="150" width="21" height="1" fill="#dc6900"/><rect x="536" y="151" width="21" height="1" fill="#db6700"/><rect x="536" y="152" width="21" height="1" fill="#db6600"/><rect x="536" y="153" width="21" height="1" fill="#db6500"/><rect x="536" y="154" width="21" height="1" fill="#da6400"/><rect x="536" y="155" width="21" height="1" fill="#da6300"/><rect x="536" y="156" width="21" height="1" fill="#d96200"/><rect x="536" y="157" width="21" height="1" fill="#d96100"/><rect x="536" y="158" width="21" height="1" fill="#d96000"/><rect x="536" y="159" width="21" height="1" fill="#d85e00"/><rect x="536" y="160" width="21" height="1" fill="#d85d00"/><rect x="536" y="161" width="21" height="1" fill="#d75c00"/><rect x="536" y="162" width="21" height="1" fill="#d75b00"/><rect x="536" y="163" width="21" height="1" fill="#d65a00"/><rect x="536" y="164" width="21" height="1" fill="#d65900"/><rect x="536" y="165" width="21" height="1" fill="#d65800"/><rect x="536" y="166" width="21" height="1" fill="#d55700"/><rect x="536" y="167" width="21" height="1" fill="#d55600"/><rect x="536" y="168" width="21" height="1" fill="#d45500"/><rect x="536" y="169" width="21" height="1" fill="#d45400"/><rect x="536" y="170" width="21" height="1" fill="#d35300"/><rect x="536" y="171" width="21" height="1" fill="#d35200"/><rect x="536" y="172" width="21" height="1" fill="#d35100"/><rect x="536" y="173" width="21" height="1" fill="#d25000"/><rect x="536" y="174" width="21" height="1" fill="#d24f00"/><rect x="536" y="175" width="21" height="1" fill="#d14e00"/><rect x="536" y="176" width="21" height="1" fill="#d14d00"/><rect x="536" y="177" width="21" height="1" fill="#d04c00"/><rect x="536" y="178" width="21" height="1" fill="#d04b00"/><rect x="536" y="179" width="21" height="1" fill="#d04a00"/><rect x="536" y="180" width="21" height="1" fill="#cf4900"/><rect x="536" y="181" width="21" height="1" fill="#cf4800"/><rect x="536" y="182" width="21" height="1" fill="#ce4800"/><rect x="536" y="183" width="21" height="1" fill="#ce4700"/><rect x="536" y="184" width="21" height="1" fill="#cd4600"/><rect x="536" y="185" width="21" height="1" fill="#cd4500"/><rect x="536" y="186" width="21" height="1" fill="#cd4400"/><rect x="536" y="187" width="21" height="1" fill="#cc4300"/><rect x="536" y="188" width="21" height="1" fill="#cc4200"/><rect x="536" y="189" width="21" height="1" fill="#cb4100"/><rect x="536" y="190" width="21" height="1" fill="#cb4100"/><rect x="536" y="191" width="21" height="1" fill="#ca4000"/><rect x="536" y="192" width="21" height="1" fill="#ca3f00"/><rect x="536" y="193" width="21" height="1" fill="#c93e00"/><rect x="536" y="194" width="21" height="1" fill="#c93d00"/><rect x="536" y="195" width="21" height="1" fill="#c93c00"/><rect x="536" y="196" width="21" height="1" fill="#c83c00"/><rect x="536" y="197" width="21" height="1" fill="#c83b00"/><rect x="536" y="198" width="21" height="1" fill="#c73a00"/><rect x="536" y="199" width="21" height="1" fill="#c73900"/><rect x="536" y="200" width="21" height="1" fill="#c63800"/><rect x="536" y="201" width="21" height="1" fill="#c63800"/><rect x="536" y="202" width="21" height="1" fill="#c53700"/><rect x="536" y="203" width="21" height="1" fill="#c53600"/><rect x="536" y="204" width="21" height="1" fill="#c53500"/><rect x="536" y="205" width="21" height="1" fill="#c43500"/><rect x="536" y="206" width="21" height="1" fill="#c43400"/><rect x="536" y="207" width="21" height="1" fill="#c33300"/><rect x="536" y="208" width="21" height="1" fill="#c33200"/><rect x="536" y="209" width="21" height="1" fill="#c23200"/><rect x="536" y="210" width="21" height="1" fill="#c23100"/><rect x="536" y="211" width="21" height="1" fill="#c13000"/><rect x="536" y="212" width="21" height="1" fill="#c13000"/><rect x="536" y="213" width="21" height="1" fill="#c02f00"/><rect x="536" y="214" width="21" height="1" fill="#c02e00"/><rect x="536" y="215" width="21" height="1" fill="#bf2e00"/><rect x="536" y="216" width="21" height="1" fill="#bf2d00"/><rect x="536" y="217" width="21" height="1" fill="#be2c00"/><rect x="536" y="218" width="21" height="1" fill="#be2c00"/><rect x="536" y="219" width="21" height="1" fill="#be2b00"/><rect x="536" y="220" width="21" height="1" fill="#bd2a00"/><rect x="536" y="221" width="21" height="1" fill="#bd2a00"/><rect x="536" y="222" width="21" height="1" fill="#bc2900"/><rect x="536" y="223" width="21" height="1" fill="#bc2800"/><rect x="536" y="224" width="21" height="1" fill="#bb2800"/><rect x="536" y="225" width="21" height="1" fill="#bb2700"/><rect x="536" y="226" width="21" height="1" fill="#ba2700"/><rect x="536" y="227" width="21" height="1" fill="#ba2600"/><rect x="536" y="228" width="21" height="1" fill="#b92500"/><rect x="536" y="229" width="21" height="1" fill="#b92500"/><rect x="536" y="230" width="21" height="1" fill="#b82400"/><rect x="536" y="231" width="21" height="1" fill="#b82400"/><rect x="536" y="232" width="21" height="1" fill="#b72300"/><rect x="536" y="233" width="21" height="1" fill="#b72300"/><rect x="536" y="234" width="21" height="1" fill="#b62200"/><rect x="536" y="235" width="21" height="1" fill="#b62100"/><rect x="536" y="236" width="21" height="1" fill="#b52100"/><rect x="536" y="237" width="21" height="1" fill="#b52000"/><rect x="536" y="238" width="21" height="1" fill="#b42000"/><rect x="536" y="239" width="21" height="1" fill="#b41f04"/><rect x="536" y="240" width="21" height="1" fill="#b31f09"/><rect x="536" y="241" width="21" height="1" fill="#b31e0d"/><rect x="536" y="242" width="21" height="1" fill="#b21e12"/><rect x="536" y="243" width="21" height="1" fill="#b21d16"/><rect x="536" y="244" width="21" height="1" fill="#b11d1a"/><rect x="536" y="245" width="21" height="1" fill="#b11c1f"/><rect x="536" y="246" width="21" height="1" fill="#b01c23"/><rect x="536" y="247" width="21" height="1" fill="#b01b28"/><rect x="536" y="248" width="21" height="1" fill="#af1b2c"/><rect x="536" y="249" width="21" height="1" fill="#af1a30"/><rect x="536" y="250" width="21" height="1" fill="#ae1a35"/><rect x="536" y="251" width="21" height="1" fill="#ae1939"/><rect x="536" y="252" width="21" height="1" fill="#ad193d"/><rect x="536" y="253" width="21" height="1" fill="#ad1942"/><rect x="536" y="254" width="21" height="1" fill="#ac1846"/><rect x="536" y="255" width="21" height="1" fill="#ac184a"/><rect x="536" y="256" width="21" height="1" fill="#ab174e"/><rect x="536" y="257" width="21" height="1" fill="#ab1753"/><rect x="536" y="258" width="21" height="1" fill="#aa1657"/><rect x="536" y="259" width="21" height="1" fill="#aa165b"/><rect x="536" y="260" width="21" height="1" fill="#a9165f"/><rect x="536" y="261" width="21" height="1" fill="#a81563"/><rect x="536" y="262" width="21" height="1" fill="#a81567"/><rect x="536" y="263" width="21" height="1" fill="#a7146b"/><rect x="536" y="264" width="21" height="1" fill="#a7146f"/><rect x="536" y="265" width="21" height="1" fill="#a61473"/><rect x="536" y="266" width="21" height="1" fill="#a61377"/><rect x="536" y="267" width="21" height="1" fill="#a5137b"/><rect x="536" y="268" width="21" height="1" fill="#a5137f"/><rect x="536" y="269" width="21" height="1" fill="#a41283"/><rect x="536" y="270" width="21" height="1" fill="#a41286"/><rect x="536" y="271" width="21" height="1" fill="#a3118a"/><rect x="536" y="272" width="21" height="1" fill="#a2118e"/><rect x="536" y="273" width="21" height="1" fill="#a21192"/><rect x="536" y="274" width="21" height="1" fill="#a11095"/><rect x="536" y="275" width="21" height="1" fill="#a11099"/><rect x="536" y="276" width="21" height="1" fill="#a0109c"/><rect x="536" y="277" width="21" height="1" fill="#a00fa0"/><rect x="536" y="278" width="21" height="1" fill="#9f0fa3"/><rect x="536" y="279" width="21" height="1" fill="#9f0fa7"/><rect x="536" y="280" width="21" height="1" fill="#9e0eaa"/><rect x="536" y="281" width="21" height="1" fill="#9d0ead"/><rect x="536" y="282" width="21" height="1" fill="#9d0eb0"/><rect x="536" y="283" width="21" height="1" fill="#9c0eb4"/><rect x="536" y="284" width="21" height="1" fill="#9c0db7"/><rect x="536" y="285" width="21" height="1" fill="#9b0dba"/><rect x="536" y="286" width="21" height="1" fill="#9b0dbd"/><rect x="536" y="287" width="21" height="1" fill="#9a0cc0"/><rect x="536" y="288" width="21" height="1" fill="#990cc3"/><rect x="536" y="289" width="21" height="1" fill="#990cc5"/><rect x="536" y="290" width="21" height="1" fill="#980cc8"/><rect x="536" y="291" width="21" height="1" fill="#980bcb"/><rect x="536" y="292" width="21" height="1" fill="#970bcd"/><rect x="536" y="293" width="21" height="1" fill="#960bd0"/><rect x="536" y="294" width="21" height="1" fill="#960bd3"/><rect x="536" y="295" width="21" height="1" fill="#950ad5"/><rect x="536" y="296" width="21" height="1" fill="#950ad7"/><rect x="536" y="297" width="21" height="1" fill="#940ada"/><rect x="536" y="298" width="21" height="1" fill="#930adc"/><rect x="536" y="299" width="21" height="1" fill="#9309de"/><rect x="536" y="300" width="21" height="1" fill="#9209e0"/><rect x="536" y="301" width="21" height="1" fill="#9209e2"/><rect x="536" y="302" width="21" height="1" fill="#9109e4"/><rect x="536" y="303" width="21" height="1" fill="#9008e6"/><rect x="536" y="304" width="21" height="1" fill="#9008e8"/><rect x="536" y="305" width="21" height="1" fill="#8f08ea"/><rect x="536" y="306" width="21" height="1" fill="#8e08ec"/><rect x="536" y="307" width="21" height="1" fill="#8e08ed"/><rect x="536" y="308" width="21" height="1" fill="#8d07ef"/><rect x="536" y="309" width="21" height="1" fill="#8d07f1"/><rect x="536" y="310" width="21" height="1" fill="#8c07f2"/><rect x="536" y="311" width="21" height="1" fill="#8b07f3"/><rect x="536" y="312" width="21" height="1" fill="#8b07f5"/><rect x="536" y="313" width="21" height="1" fill="#8a06f6"/><rect x="536" y="314" width="21" height="1" fill="#8906f7"/><rect x="536" y="315" width="21" height="1" fill="#8906f8"/><rect x="536" y="316" width="21" height="1" fill="#8806f9"/><rect x="536" y="317" width="21" height="1" fill="#8706fa"/><rect x="536" y="318" width="21" height="1" fill="#8706fb"/><rect x="536" y="319" width="21" height="1" fill="#8605fc"/><rect x="536" y="320" width="21" height="1" fill="#8505fc"/><rect x="536" y="321" width="21" height="1" fill="#8505fd"/><rect x="536" y="322" width="21" height="1" fill="#8405fd"/><rect x="536" y="323" width="21" height="1" fill="#8305fe"/><rect x="536" y="324" width="21" height="1" fill="#8305fe"/><rect x="536" y="325" width="21" height="1" fill="#8204ff"/><rect x="536" y="326" width="21" height="1" fill="#8104ff"/><rect x="536" y="327" width="21" height="1" fill="#8104ff"/><rect x="536" y="328" width="21" height="1" fill="#8004ff"/><rect x="536" y="329" width="21" height="1" fill="#7f04ff"/><rect x="536" y="330" width="21" height="1" fill="#7e04ff"/><rect x="536" y="331" width="21" height="1" fill="#7e04ff"/><rect x="536" y="332" width="21" height="1" fill="#7d04ff"/><rect x="536" y="333" width="21" height="1" fill="#7c03fe"/><rect x="536" y="334" width="21" height="1" fill="#7c03fe"/><rect x="536" y="335" width="21" height="1" fill="#7b03fd"/><rect x="536" y="336" width="21" height="1" fill="#7a03fd"/><rect x="536" y="337" width="21" height="1" fill="#7903fc"/><rect x="536" y="338" width="21" height="1" fill="#7903fc"/><rect x="536" y="339" width="21" height="1" fill="#7803fb"/><rect x="536" y="340" width="21" height="1" fill="#7703fa"/><rect x="536" y="341" width="21" height="1" fill="#7603f9"/><rect x="536" y="342" width="21" height="1" fill="#7602f8"/><rect x="536" y="343" width="21" height="1" fill="#7502f7"/><rect x="536" y="344" width="21" height="1" fill="#7402f6"/><rect x="536" y="345" width="21" height="1" fill="#7302f5"/><rect x="536" y="346" width="21" height="1" fill="#7302f3"/><rect x="536" y="347" width="21" height="1" fill="#7202f2"/><rect x="536" y="348" width="21" height="1" fill="#7102f1"/><rect x="536" y="349" width="21" height="1" fill="#7002ef"/><rect x="536" y="350" width="21" height="1" fill="#6f02ed"/><rect x="536" y="351" width="21" height="1" fill="#6f02ec"/><rect x="536" y="352" width="21" height="1" fill="#6e02ea"/><rect x="536" y="353" width="21" height="1" fill="#6d02e8"/><rect x="536" y="354" width="21" height="1" fill="#6c01e6"/><rect x="536" y="355" width="21" height="1" fill="#6b01e5"/><rect x="536" y="356" width="21" height="1" fill="#6a01e3"/><rect x="536" y="357" width="21" height="1" fill="#6a01e0"/><rect x="536" y="358" width="21" height="1" fill="#6901de"/><rect x="536" y="359" width="21" height="1" fill="#6801dc"/><rect x="536" y="360" width="21" height="1" fill="#6701da"/><rect x="536" y="361" width="21" height="1" fill="#6601d8"/><rect x="536" y="362" width="21" height="1" fill="#6501d5"/><rect x="536" y="363" width="21" height="1" fill="#6401d3"/><rect x="536" y="364" width="21" height="1" fill="#6301d0"/><rect x="536" y="365" width="21" height="1" fill="#6201ce"/><rect x="536" y="366" width="21" height="1" fill="#6201cb"/><rect x="536" y="367" width="21" height="1" fill="#6101c8"/><rect x="536" y="368" width="21" height="1" fill="#6001c5"/><rect x="536" y="369" width="21" height="1" fill="#5f01c3"/><rect x="536" y="370" width="21" height="1" fill="#5e01c0"/><rect x="536" y="371" width="21" height="1" fill="#5d01bd"/><rect x="536" y="372" width="21" height="1" fill="#5c01ba"/><rect x="536" y="373" width="21" height="1" fill="#5b01b7"/><rect x="536" y="374" width="21" height="1" fill="#5a00b4"/><rect x="536" y="375" width="21" height="1" fill="#5900b0"/><rect x="536" y="376" width="21" height="1" fill="#5800ad"/><rect x="536" y="377" width="21" height="1" fill="#5700aa"/><rect x="536" y="378" width="21" height="1" fill="#5600a7"/><rect x="536" y="379" width="21" height="1" fill="#5500a3"/><rect x="536" y="380" width="21" height="1" fill="#5400a0"/><rect x="536" y="381" width="21" height="1" fill="#53009c"/><rect x="536" y="382" width="21" height="1" fill="#520099"/><rect x="536" y="383" width="21" height="1" fill="#500095"/><rect x="536" y="384" width="21" height="1" fill="#4f0092"/><rect x="536" y="385" width="21" height="1" fill="#4e008e"/><rect x="536" y="386" width="21" height="1" fill="#4d008a"/><rect x="536" y="387" width="21" height="1" fill="#4c0086"/><rect x="536" y="388" width="21" height="1" fill="#4b0083"/><rect x="536" y="389" width="21" height="1" fill="#49007f"/><rect x="536" y="390" width="21" height="1" fill="#48007b"/><rect x="536" y="391" width="21" height="1" fill="#470077"/><rect x="536" y="392" width="21" height="1" fill="#460073"/><rect x="536" y="393" width="21" height="1" fill="#44006f"/><rect x="536" y="394" width="21" height="1" fill="#43006b"/><rect x="536" y="395" width="21" height="1" fill="#420067"/><rect x="536" y="396" width="21" height="1" fill="#400063"/><rect x="536" y="397" width="21" height="1" fill="#3f005f"/><rect x="536" y="398" width="21" height="1" fill="#3d005b"/><rect x="536" y="399" width="21" height="1" fill="#3c0057"/><rect x="536" y="400" width="21" height="1" fill="#3a0053"/><rect x="536" y="401" width="21" height="1" fill="#39004e"/><rect x="536" y="402" width="21" height="1" fill="#37004a"/><rect x="536" y="403" width="21" height="1" fill="#360046"/><rect x="536" y="404" width="21" height="1" fill="#340042"/><rect x="536" y="405" width="21" height="1" fill="#32003d"/><rect x="536" y="406" width="21" height="1" fill="#300039"/><rect x="536" y="407" width="21" height="1" fill="#2e0035"/><rect x="536" y="408" width="21" height="1" fill="#2c0030"/><rect x="536" y="409" width="21" height="1" fill="#2a002c"/><rect x="536" y="410" width="21" height="1" fill="#280028"/><rect x="536" y="411" width="21" height="1" fill="#260023"/><rect x="536" y="412" width="21" height="1" fill="#23001f"/><rect x="536" y="413" width="21" height="1" fill="#21001b"/><rect x="536" y="414" width="21" height="1" fill="#1e0016"/><rect x="536" y="415" width="21" height="1" fill="#1b0012"/><rect x="536" y="416" width="21" height="1" fill="#17000d"/><rect x="536" y="417" width="21" height="1" fill="#130009"/><rect x="536" y="418" width="21" height="1" fill="#0d0004"/></g>
<g shape-rendering="crispEdges" fill="#000"><rect x="536" y="366" width="4" height="1"/><rect x="553" y="366" width="4" height="1"/><rect x="536" y="306" width="4" height="1"/><rect x="553" y="306" width="4" height="1"/><rect x="536" y="246" width="4" height="1"/><rect x="553" y="246" width="4" height="1"/><rect x="536" y="186" width="4" height="1"/><rect x="553" y="186" width="4" height="1"/><rect x="536" y="126" width="4" height="1"/><rect x="553" y="126" width="4" height="1"/><rect x="536" y="66" width="4" height="1"/><rect x="553" y="66" width="4" height="1"/>
<rect x="535" y="57" width="23" height="1"/><rect x="535" y="419" width="23" height="1"/><rect x="535" y="57" width="1" height="363"/><rect x="557" y="57" width="1" height="363"/>
</g>
<text x="298.1" y="33.2" text-anchor="middle" letter-spacing="0.023">UQRG-GIM Global VTEC maps 20240821.234.00000</text>
<text x="297.8" y="470.5" text-anchor="middle">Longitude / deg</text>
<text transform="translate(19.0,238.8) rotate(-90)" text-anchor="middle">Latitude / deg</text>
<text transform="translate(616.2,239.3) rotate(-90)" text-anchor="middle">VTEC / TECU</text>
<text x="111.7" y="443.3" text-anchor="middle">-150</text><text x="174.2" y="443.3" text-anchor="middle">-100</text><text x="236.7" y="443.3" text-anchor="middle">-50</text><text x="299.2" y="443.3" text-anchor="middle">0</text><text x="361.7" y="443.3" text-anchor="middle">50</text><text x="424.2" y="443.3" text-anchor="middle">100</text><text x="486.7" y="443.3" text-anchor="middle">150</text>
<text x="61.9" y="407.8" text-anchor="end">-80</text><text x="61.9" y="366.5" text-anchor="end">-60</text><text x="61.9" y="325.3" text-anchor="end">-40</text><text x="61.9" y="284.0" text-anchor="end">-20</text><text x="60.9" y="242.8" text-anchor="end">0</text><text x="60.9" y="201.5" text-anchor="end">20</text><text x="60.9" y="160.3" text-anchor="end">40</text><text x="60.9" y="119.0" text-anchor="end">60</text><text x="60.9" y="77.8" text-anchor="end">80</text>
<text x="571.2" y="371.3">20</text><text x="571.2" y="311.3">40</text><text x="571.2" y="251.3">60</text><text x="571.2" y="191.3">80</text><text x="571.2" y="131.3">100</text><text x="571.2" y="71.3">120</text>
</svg>
</body></html>
